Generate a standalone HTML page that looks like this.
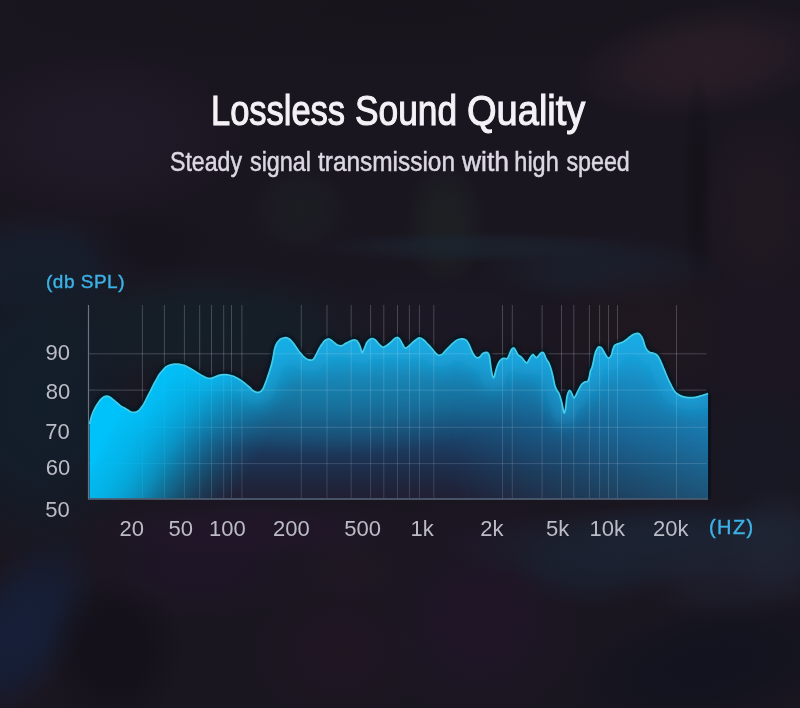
<!DOCTYPE html>
<html><head><meta charset="utf-8"><style>
html,body{margin:0;padding:0}
body{width:800px;height:708px;overflow:hidden;position:relative;background:#1a1620;font-family:"Liberation Sans",sans-serif}
svg{position:absolute;left:0;top:0}
</style></head><body>
<svg width="800" height="708" viewBox="0 0 800 708">
<defs>
<radialGradient id="b0"><stop offset="0" stop-color="#16141b" stop-opacity="0.7"/><stop offset=".45" stop-color="#16141b" stop-opacity="0.59"/><stop offset="1" stop-color="#16141b" stop-opacity="0"/></radialGradient>
<radialGradient id="b1"><stop offset="0" stop-color="#2a1e28" stop-opacity="0.9"/><stop offset=".45" stop-color="#2a1e28" stop-opacity="0.77"/><stop offset="1" stop-color="#2a1e28" stop-opacity="0"/></radialGradient>
<radialGradient id="b2"><stop offset="0" stop-color="#131017" stop-opacity="0.7"/><stop offset=".45" stop-color="#131017" stop-opacity="0.59"/><stop offset="1" stop-color="#131017" stop-opacity="0"/></radialGradient>
<radialGradient id="b3"><stop offset="0" stop-color="#221922" stop-opacity="0.8"/><stop offset=".45" stop-color="#221922" stop-opacity="0.68"/><stop offset="1" stop-color="#221922" stop-opacity="0"/></radialGradient>
<radialGradient id="b4"><stop offset="0" stop-color="#221a2a" stop-opacity="0.8"/><stop offset=".45" stop-color="#221a2a" stop-opacity="0.68"/><stop offset="1" stop-color="#221a2a" stop-opacity="0"/></radialGradient>
<radialGradient id="b5"><stop offset="0" stop-color="#172030" stop-opacity="0.8"/><stop offset=".45" stop-color="#172030" stop-opacity="0.68"/><stop offset="1" stop-color="#172030" stop-opacity="0"/></radialGradient>
<radialGradient id="b6"><stop offset="0" stop-color="#15131c" stop-opacity="0.6"/><stop offset=".45" stop-color="#15131c" stop-opacity="0.51"/><stop offset="1" stop-color="#15131c" stop-opacity="0"/></radialGradient>
<radialGradient id="b7"><stop offset="0" stop-color="#1f2626" stop-opacity="0.6"/><stop offset=".45" stop-color="#1f2626" stop-opacity="0.51"/><stop offset="1" stop-color="#1f2626" stop-opacity="0"/></radialGradient>
<radialGradient id="b8"><stop offset="0" stop-color="#1e2226" stop-opacity="0.5"/><stop offset=".45" stop-color="#1e2226" stop-opacity="0.42"/><stop offset="1" stop-color="#1e2226" stop-opacity="0"/></radialGradient>
<radialGradient id="b9"><stop offset="0" stop-color="#1b2530" stop-opacity="0.7"/><stop offset=".45" stop-color="#1b2530" stop-opacity="0.59"/><stop offset="1" stop-color="#1b2530" stop-opacity="0"/></radialGradient>
<radialGradient id="b10"><stop offset="0" stop-color="#1a2230" stop-opacity="0.7"/><stop offset=".45" stop-color="#1a2230" stop-opacity="0.59"/><stop offset="1" stop-color="#1a2230" stop-opacity="0"/></radialGradient>
<radialGradient id="b11"><stop offset="0" stop-color="#121e2a" stop-opacity="1.0"/><stop offset=".45" stop-color="#121e2a" stop-opacity="0.85"/><stop offset="1" stop-color="#121e2a" stop-opacity="0"/></radialGradient>
<radialGradient id="b12"><stop offset="0" stop-color="#142029" stop-opacity="0.9"/><stop offset=".45" stop-color="#142029" stop-opacity="0.77"/><stop offset="1" stop-color="#142029" stop-opacity="0"/></radialGradient>
<radialGradient id="b13"><stop offset="0" stop-color="#1c1826" stop-opacity="0.7"/><stop offset=".45" stop-color="#1c1826" stop-opacity="0.59"/><stop offset="1" stop-color="#1c1826" stop-opacity="0"/></radialGradient>
<radialGradient id="b14"><stop offset="0" stop-color="#201820" stop-opacity="0.8"/><stop offset=".45" stop-color="#201820" stop-opacity="0.68"/><stop offset="1" stop-color="#201820" stop-opacity="0"/></radialGradient>
<radialGradient id="b15"><stop offset="0" stop-color="#1c1622" stop-opacity="0.7"/><stop offset=".45" stop-color="#1c1622" stop-opacity="0.59"/><stop offset="1" stop-color="#1c1622" stop-opacity="0"/></radialGradient>
<radialGradient id="b16"><stop offset="0" stop-color="#151824" stop-opacity="0.8"/><stop offset=".45" stop-color="#151824" stop-opacity="0.68"/><stop offset="1" stop-color="#151824" stop-opacity="0"/></radialGradient>
<radialGradient id="b17"><stop offset="0" stop-color="#22162a" stop-opacity="0.8"/><stop offset=".45" stop-color="#22162a" stop-opacity="0.68"/><stop offset="1" stop-color="#22162a" stop-opacity="0"/></radialGradient>
<radialGradient id="b18"><stop offset="0" stop-color="#1e1626" stop-opacity="0.6"/><stop offset=".45" stop-color="#1e1626" stop-opacity="0.51"/><stop offset="1" stop-color="#1e1626" stop-opacity="0"/></radialGradient>
<radialGradient id="b19"><stop offset="0" stop-color="#1a1e2e" stop-opacity="0.8"/><stop offset=".45" stop-color="#1a1e2e" stop-opacity="0.68"/><stop offset="1" stop-color="#1a1e2e" stop-opacity="0"/></radialGradient>
<radialGradient id="b20"><stop offset="0" stop-color="#15203a" stop-opacity="0.9"/><stop offset=".45" stop-color="#15203a" stop-opacity="0.77"/><stop offset="1" stop-color="#15203a" stop-opacity="0"/></radialGradient>
<radialGradient id="b21"><stop offset="0" stop-color="#110f17" stop-opacity="0.8"/><stop offset=".45" stop-color="#110f17" stop-opacity="0.68"/><stop offset="1" stop-color="#110f17" stop-opacity="0"/></radialGradient>
<radialGradient id="b22"><stop offset="0" stop-color="#21152a" stop-opacity="0.6"/><stop offset=".45" stop-color="#21152a" stop-opacity="0.51"/><stop offset="1" stop-color="#21152a" stop-opacity="0"/></radialGradient>
<radialGradient id="b23"><stop offset="0" stop-color="#241624" stop-opacity="0.5"/><stop offset=".45" stop-color="#241624" stop-opacity="0.42"/><stop offset="1" stop-color="#241624" stop-opacity="0"/></radialGradient>
<radialGradient id="b24"><stop offset="0" stop-color="#241a26" stop-opacity="0.5"/><stop offset=".45" stop-color="#241a26" stop-opacity="0.42"/><stop offset="1" stop-color="#241a26" stop-opacity="0"/></radialGradient>
<radialGradient id="b25"><stop offset="0" stop-color="#22152a" stop-opacity="0.7"/><stop offset=".45" stop-color="#22152a" stop-opacity="0.59"/><stop offset="1" stop-color="#22152a" stop-opacity="0"/></radialGradient>
<radialGradient id="b26"><stop offset="0" stop-color="#1c2636" stop-opacity="0.7"/><stop offset=".45" stop-color="#1c2636" stop-opacity="0.59"/><stop offset="1" stop-color="#1c2636" stop-opacity="0"/></radialGradient>
<radialGradient id="b27"><stop offset="0" stop-color="#222a3a" stop-opacity="0.6"/><stop offset=".45" stop-color="#222a3a" stop-opacity="0.51"/><stop offset="1" stop-color="#222a3a" stop-opacity="0"/></radialGradient>
<radialGradient id="b28"><stop offset="0" stop-color="#1a2232" stop-opacity="0.6"/><stop offset=".45" stop-color="#1a2232" stop-opacity="0.51"/><stop offset="1" stop-color="#1a2232" stop-opacity="0"/></radialGradient>
<radialGradient id="b29"><stop offset="0" stop-color="#1f2232" stop-opacity="0.6"/><stop offset=".45" stop-color="#1f2232" stop-opacity="0.51"/><stop offset="1" stop-color="#1f2232" stop-opacity="0"/></radialGradient>
<radialGradient id="b30"><stop offset="0" stop-color="#11131e" stop-opacity="0.95"/><stop offset=".45" stop-color="#11131e" stop-opacity="0.81"/><stop offset="1" stop-color="#11131e" stop-opacity="0"/></radialGradient>
<linearGradient id="gv" x1="0" y1="335" x2="0" y2="498" gradientUnits="userSpaceOnUse">
<stop offset="0" stop-color="#1ba6da"/>
<stop offset="0.092" stop-color="#1a9fd4"/>
<stop offset="0.184" stop-color="#1890c4"/>
<stop offset="0.276" stop-color="#177eb0"/>
<stop offset="0.368" stop-color="#166c9a"/>
<stop offset="0.46" stop-color="#175c88"/>
<stop offset="0.552" stop-color="#184c76"/>
<stop offset="0.675" stop-color="#1b3d62"/>
<stop offset="0.798" stop-color="#1d2f4e"/>
<stop offset="0.89" stop-color="#1e2840"/>
<stop offset="1" stop-color="#211f34"/>
</linearGradient>
<linearGradient id="gl" x1="80" y1="480" x2="205.7" y2="550.4" gradientUnits="userSpaceOnUse">
<stop offset="0" stop-color="#00c2fa" stop-opacity="1"/>
<stop offset="0.061" stop-color="#00c2fa" stop-opacity=".95"/>
<stop offset="0.182" stop-color="#00c2fa" stop-opacity=".9"/>
<stop offset="0.303" stop-color="#00c2fa" stop-opacity=".81"/>
<stop offset="0.424" stop-color="#00c2fa" stop-opacity=".67"/>
<stop offset="0.545" stop-color="#00c2fa" stop-opacity=".47"/>
<stop offset="0.667" stop-color="#00c2fa" stop-opacity=".29"/>
<stop offset="0.788" stop-color="#00c2fa" stop-opacity=".15"/>
<stop offset="0.909" stop-color="#00c2fa" stop-opacity=".05"/>
<stop offset="1" stop-color="#00c2fa" stop-opacity="0"/>
</linearGradient>
<linearGradient id="gr" x1="450" y1="0" x2="708" y2="0" gradientUnits="userSpaceOnUse">
<stop offset="0" stop-color="#1aa0dc" stop-opacity="0"/>
<stop offset="1" stop-color="#1aa0dc" stop-opacity=".62"/>
</linearGradient>
<linearGradient id="gmv" x1="0" y1="400" x2="0" y2="498" gradientUnits="userSpaceOnUse">
<stop offset="0" stop-color="#fff"/>
<stop offset="1" stop-color="#a6a6a6"/>
</linearGradient>
<mask id="mv" maskUnits="userSpaceOnUse" x="0" y="0" width="800" height="708"><rect x="0" y="300" width="800" height="200" fill="url(#gmv)"/></mask>
<radialGradient id="gx" cx="330" cy="400" r="1" gradientUnits="userSpaceOnUse" gradientTransform="translate(330 400) scale(190 55) translate(-330 -400)">
<stop offset="0" stop-color="#18a0c8" stop-opacity=".28"/>
<stop offset="0.5" stop-color="#18a0c8" stop-opacity=".2"/>
<stop offset="1" stop-color="#18a0c8" stop-opacity="0"/>
</radialGradient>
<clipPath id="cf"><path d="M89.6,424 C89.8,423.3 90.2,421.3 90.5,420.0 C90.8,418.7 91.1,417.4 91.6,416.0 C92.1,414.6 92.6,413.0 93.3,411.5 C94.0,410.0 94.8,408.5 95.6,407.0 C96.4,405.5 97.5,403.7 98.4,402.4 C99.4,401.1 100.3,399.9 101.3,399.0 C102.2,398.1 103.2,397.3 104.1,396.8 C105.0,396.3 106.0,396.1 106.9,396.1 C107.8,396.2 108.7,396.5 109.7,397.1 C110.7,397.7 112.0,398.7 113.1,399.6 C114.2,400.5 115.4,401.4 116.5,402.4 C117.6,403.3 118.8,404.4 119.9,405.3 C121.0,406.2 122.2,406.9 123.3,407.5 C124.3,408.1 125.0,408.2 126.2,408.9 C127.4,409.6 129.1,411.1 130.5,411.7 C131.9,412.3 133.3,412.6 134.7,412.4 C136.1,412.2 137.7,411.4 139.0,410.3 C140.3,409.2 141.4,407.5 142.5,406.0 C143.6,404.5 144.4,402.9 145.3,401.1 C146.2,399.3 147.2,397.3 148.1,395.4 C149.0,393.5 150.1,391.7 151.0,389.8 C151.9,387.9 152.9,385.9 153.8,384.1 C154.7,382.3 155.7,380.9 156.6,379.2 C157.5,377.5 158.3,375.7 159.4,374.2 C160.5,372.7 161.9,371.2 163.0,370.0 C164.1,368.8 164.8,367.7 166.0,366.9 C167.2,366.1 168.7,365.4 170.0,365.0 C171.3,364.6 172.8,364.4 174.0,364.2 C175.2,364.1 176.0,364.1 177.0,364.1 C178.0,364.1 178.8,364.2 180.0,364.4 C181.2,364.6 182.7,364.8 184.0,365.3 C185.3,365.8 186.7,366.5 188.0,367.2 C189.3,367.9 190.7,368.6 192.0,369.4 C193.3,370.2 194.7,371.1 196.0,371.9 C197.3,372.7 198.7,373.6 200.0,374.4 C201.3,375.2 202.7,376.0 204.0,376.6 C205.3,377.2 206.8,377.9 208.0,378.2 C209.2,378.5 210.0,378.5 211.0,378.4 C212.0,378.2 213.0,377.7 214.0,377.3 C215.0,376.9 216.0,376.5 217.0,376.1 C218.0,375.7 219.0,375.3 220.0,375.1 C221.0,374.9 222.0,374.8 223.0,374.7 C224.0,374.6 225.0,374.6 226.0,374.7 C227.0,374.8 228.0,374.8 229.0,375.0 C230.0,375.2 231.0,375.4 232.0,375.8 C233.0,376.1 234.0,376.5 235.0,377.0 C236.0,377.5 237.0,378.0 238.0,378.6 C239.0,379.2 240.0,379.7 241.0,380.4 C242.0,381.1 243.0,381.8 244.0,382.6 C245.0,383.4 246.0,384.3 247.0,385.1 C248.0,385.9 249.2,386.8 250.0,387.6 C250.8,388.4 251.3,389.4 252.0,390.0 C252.7,390.6 253.3,390.8 254.0,391.2 C254.7,391.6 255.2,391.9 256.0,392.1 C256.8,392.3 257.7,392.5 258.5,392.4 C259.3,392.2 260.2,391.8 261.0,391.2 C261.8,390.6 262.3,390.0 263.0,388.8 C263.7,387.6 264.3,385.8 265.0,384.1 C265.7,382.4 266.3,380.6 267.0,378.7 C267.7,376.8 268.3,374.9 269.0,372.8 C269.7,370.7 270.4,368.4 271.0,366.3 C271.6,364.2 272.1,362.4 272.5,360.5 C272.9,358.6 273.1,357.2 273.5,355.0 C273.9,352.8 274.4,349.5 275.0,347.5 C275.6,345.5 276.3,344.2 277.0,343.0 C277.7,341.8 278.3,341.2 279.0,340.5 C279.7,339.8 280.2,339.2 281.0,338.8 C281.8,338.3 283.2,337.9 284.0,337.8 C284.8,337.6 285.3,337.5 286.0,337.6 C286.7,337.7 287.3,337.9 288.0,338.2 C288.7,338.6 289.3,339.0 290.0,339.5 C290.7,340.0 291.3,340.8 292.0,341.5 C292.7,342.2 293.3,343.1 294.0,344.0 C294.7,344.9 295.3,346.0 296.0,347.0 C296.7,348.0 297.3,349.1 298.0,350.0 C298.7,350.9 299.3,351.7 300.0,352.5 C300.7,353.3 301.3,354.1 302.0,354.8 C302.7,355.6 303.3,356.4 304.0,357.0 C304.7,357.6 305.3,358.2 306.0,358.6 C306.7,359.0 307.2,359.4 308.0,359.6 C308.8,359.9 309.7,360.1 310.5,360.1 C311.3,360.1 312.2,360.2 313.0,359.6 C313.8,359.0 314.3,357.8 315.0,356.7 C315.7,355.6 316.3,354.1 317.0,352.8 C317.7,351.5 318.3,350.1 319.0,348.9 C319.7,347.7 320.3,346.5 321.0,345.5 C321.7,344.5 322.3,343.6 323.0,342.7 C323.7,341.8 324.3,341.0 325.0,340.4 C325.7,339.8 326.3,339.4 327.0,339.2 C327.7,339.0 328.3,338.9 329.0,339.0 C329.7,339.1 330.3,339.5 331.0,339.9 C331.7,340.3 332.3,341.1 333.0,341.6 C333.7,342.2 334.3,342.7 335.0,343.2 C335.7,343.7 336.3,344.3 337.0,344.7 C337.7,345.1 338.3,345.3 339.0,345.5 C339.7,345.7 340.3,345.9 341.0,345.8 C341.7,345.8 342.3,345.5 343.0,345.2 C343.7,344.9 344.2,344.3 345.0,343.8 C345.8,343.3 346.8,342.9 348.0,342.3 C349.2,341.7 350.8,340.8 352.0,340.4 C353.2,340.0 354.2,339.9 355.0,340.0 C355.8,340.1 356.3,340.2 357.0,340.8 C357.7,341.4 358.4,342.7 359.0,343.8 C359.6,344.9 360.1,346.3 360.5,347.5 C360.9,348.7 361.2,350.2 361.5,351.1 C361.8,352.0 361.9,352.7 362.2,352.6 C362.5,352.5 363.0,351.5 363.5,350.5 C364.0,349.5 364.4,348.2 365.0,346.8 C365.6,345.4 366.2,343.6 367.0,342.3 C367.8,341.1 369.1,339.9 370.0,339.3 C370.9,338.7 371.7,338.4 372.5,338.5 C373.3,338.6 374.1,338.9 375.0,339.6 C375.9,340.4 377.0,341.9 378.0,343.0 C379.0,344.1 380.2,345.3 381.0,346.0 C381.8,346.7 382.2,347.3 383.0,347.3 C383.8,347.3 384.8,346.7 386.0,346.0 C387.2,345.3 388.7,344.1 390.0,343.0 C391.3,341.9 393.0,340.1 394.0,339.2 C395.0,338.3 395.3,338.1 396.0,337.8 C396.7,337.5 397.3,337.2 398.0,337.5 C398.7,337.8 399.3,338.5 400.0,339.4 C400.7,340.3 401.3,341.9 402.0,343.1 C402.7,344.4 403.5,346.1 404.0,346.9 C404.5,347.7 404.7,348.0 405.2,348.1 C405.7,348.2 406.2,348.0 407.0,347.5 C407.8,347.0 409.0,345.9 410.0,345.0 C411.0,344.1 412.0,343.1 413.0,342.2 C414.0,341.3 415.0,340.4 416.0,339.7 C417.0,339.0 418.0,338.0 419.0,337.8 C420.0,337.6 421.0,338.2 422.0,338.8 C423.0,339.3 424.0,340.3 425.0,341.2 C426.0,342.2 427.0,343.4 428.0,344.4 C429.0,345.4 430.0,346.4 431.0,347.5 C432.0,348.6 433.0,350.1 434.0,351.2 C435.0,352.4 436.2,353.7 437.0,354.4 C437.8,355.1 438.2,355.3 439.0,355.3 C439.8,355.3 441.2,354.9 442.0,354.4 C442.8,353.9 443.2,353.3 444.0,352.4 C444.8,351.5 446.0,350.1 447.0,349.1 C448.0,348.1 449.0,347.2 450.0,346.2 C451.0,345.2 452.0,344.1 453.0,343.2 C454.0,342.3 455.0,341.3 456.0,340.6 C457.0,339.9 458.0,339.5 459.0,339.2 C460.0,338.9 461.0,338.8 462.0,338.8 C463.0,338.9 464.2,339.1 465.0,339.5 C465.8,339.9 466.3,340.2 467.0,341.0 C467.7,341.8 468.3,342.9 469.0,344.3 C469.7,345.7 470.3,347.6 471.0,349.1 C471.7,350.6 472.3,352.3 473.0,353.5 C473.7,354.7 474.2,355.7 475.0,356.4 C475.8,357.1 476.7,357.8 477.5,357.9 C478.3,358.0 479.2,357.4 480.0,356.8 C480.8,356.2 481.3,354.9 482.0,354.2 C482.7,353.5 483.3,353.1 484.0,352.8 C484.7,352.5 485.3,352.4 486.0,352.4 C486.7,352.4 487.4,352.3 488.0,353.0 C488.6,353.7 489.1,354.7 489.5,356.5 C489.9,358.3 490.2,361.6 490.5,364.0 C490.8,366.4 491.2,369.2 491.5,371.1 C491.8,373.0 492.2,374.5 492.5,375.6 C492.8,376.7 493.2,377.7 493.5,377.8 C493.8,377.9 494.2,377.2 494.5,376.2 C494.8,375.2 495.1,373.4 495.5,371.8 C495.9,370.2 496.4,368.3 497.0,366.7 C497.6,365.1 498.3,363.4 499.0,362.2 C499.7,361.0 500.3,360.3 501.0,359.7 C501.7,359.1 502.3,358.6 503.0,358.4 C503.7,358.2 504.3,358.3 505.0,358.4 C505.7,358.4 506.4,359.0 507.0,358.7 C507.6,358.4 508.0,357.5 508.5,356.5 C509.0,355.5 509.5,353.9 510.0,352.7 C510.5,351.5 511.0,350.3 511.5,349.5 C512.0,348.7 512.5,348.1 513.0,348.0 C513.5,347.9 514.0,348.1 514.5,348.6 C515.0,349.1 515.5,350.2 516.0,351.1 C516.5,352.0 517.0,353.2 517.5,354.0 C518.0,354.8 518.4,355.1 519.0,355.6 C519.6,356.1 520.3,356.2 521.0,356.8 C521.7,357.4 522.3,358.3 523.0,359.1 C523.7,359.9 524.3,361.0 525.0,361.6 C525.7,362.2 526.3,363.2 527.0,362.9 C527.7,362.6 528.3,360.8 529.0,359.7 C529.7,358.6 530.3,357.4 531.0,356.5 C531.7,355.6 532.3,354.3 533.0,354.3 C533.7,354.3 534.4,356.1 535.0,356.6 C535.6,357.2 536.0,357.6 536.5,357.6 C537.0,357.6 537.4,357.0 538.0,356.4 C538.6,355.8 539.3,354.6 540.0,353.9 C540.7,353.2 541.3,352.5 542.0,352.4 C542.7,352.3 543.4,352.6 544.0,353.4 C544.6,354.2 545.0,356.2 545.5,357.4 C546.0,358.5 546.4,359.3 547.0,360.3 C547.6,361.3 548.3,361.9 549.0,363.3 C549.7,364.7 550.3,366.5 551.0,368.7 C551.7,370.9 552.3,373.8 553.0,376.7 C553.7,379.6 554.3,383.7 555.0,386.0 C555.7,388.3 556.3,389.2 557.0,390.5 C557.7,391.8 558.3,392.0 559.0,393.5 C559.7,395.0 560.4,397.3 561.0,399.4 C561.6,401.5 562.0,403.8 562.5,406.0 C563.0,408.2 563.5,412.3 564.0,412.8 C564.5,413.3 565.0,411.7 565.5,409.0 C566.0,406.3 566.4,399.4 567.0,396.4 C567.6,393.4 568.4,391.9 569.0,391.0 C569.6,390.1 570.0,390.5 570.5,391.0 C571.0,391.5 571.4,392.8 572.0,394.0 C572.6,395.2 573.3,397.8 574.0,398.0 C574.7,398.2 575.3,396.3 576.0,395.1 C576.7,393.9 577.3,392.1 578.0,390.8 C578.7,389.5 579.3,388.2 580.0,387.1 C580.7,386.0 581.3,384.8 582.0,384.0 C582.7,383.2 583.3,382.8 584.0,382.4 C584.7,382.0 585.3,382.0 586.0,381.8 C586.7,381.6 587.4,382.0 588.0,381.0 C588.6,380.0 589.1,377.7 589.5,376.0 C589.9,374.3 590.1,372.1 590.5,370.7 C590.9,369.3 591.5,369.1 592.0,367.5 C592.5,365.9 593.0,363.5 593.5,361.2 C594.0,358.9 594.4,355.8 595.0,353.8 C595.6,351.8 596.3,350.1 597.0,349.0 C597.7,347.9 598.3,347.2 599.0,346.9 C599.7,346.6 600.3,346.9 601.0,347.4 C601.7,347.9 602.3,349.0 603.0,350.1 C603.7,351.2 604.3,352.7 605.0,353.8 C605.7,354.9 606.3,356.3 607.0,357.0 C607.7,357.7 608.3,358.2 609.0,358.0 C609.7,357.8 610.5,356.7 611.0,355.9 C611.5,355.1 611.7,354.3 612.0,353.1 C612.3,351.9 612.6,350.1 613.0,348.9 C613.4,347.6 613.8,346.4 614.5,345.6 C615.2,344.8 616.1,344.5 617.0,344.1 C617.9,343.7 619.0,343.5 620.0,343.1 C621.0,342.7 622.0,342.4 623.0,341.9 C624.0,341.4 625.0,340.7 626.0,340.0 C627.0,339.3 628.0,338.3 629.0,337.5 C630.0,336.7 631.0,335.9 632.0,335.3 C633.0,334.7 634.0,334.1 635.0,333.8 C636.0,333.4 637.1,333.2 638.0,333.4 C638.9,333.6 639.8,334.3 640.5,335.0 C641.2,335.7 641.5,336.5 642.0,337.5 C642.5,338.5 643.0,339.8 643.5,341.2 C644.0,342.7 644.4,344.8 645.0,346.2 C645.6,347.7 646.2,349.0 647.0,350.0 C647.8,351.0 649.0,351.9 650.0,352.4 C651.0,352.9 652.0,352.7 653.0,353.0 C654.0,353.3 655.2,353.8 656.0,354.3 C656.8,354.9 657.3,355.4 658.0,356.3 C658.7,357.2 659.3,358.6 660.0,359.9 C660.7,361.2 661.3,362.8 662.0,364.3 C662.7,365.9 663.3,367.6 664.0,369.2 C664.7,370.8 665.3,372.4 666.0,374.0 C666.7,375.6 667.3,377.3 668.0,378.8 C668.7,380.3 669.3,381.5 670.0,382.8 C670.7,384.1 671.3,385.6 672.0,386.9 C672.7,388.2 673.3,389.5 674.0,390.5 C674.7,391.5 675.2,392.2 676.0,392.9 C676.8,393.6 678.0,394.3 679.0,394.9 C680.0,395.5 680.8,396.0 682.0,396.4 C683.2,396.8 684.7,397.1 686.0,397.3 C687.3,397.5 688.5,397.7 690.0,397.7 C691.5,397.7 693.3,397.6 695.0,397.3 C696.7,397.0 698.7,396.5 700.0,396.1 C701.3,395.8 702.0,395.5 703.0,395.2 C704.0,394.9 705.2,394.6 706.0,394.3 C706.8,394.0 707.7,393.7 708.0,393.6 L708,498.5 L89.5,498.5 Z"/></clipPath>
<filter id="ig" x="-10%" y="-50%" width="120%" height="200%"><feGaussianBlur stdDeviation="8"/></filter>
<linearGradient id="gr" x1="460" y1="0" x2="708" y2="0" gradientUnits="userSpaceOnUse">
<stop offset="0" stop-color="#1aa0dc" stop-opacity="0"/>
<stop offset="0.32" stop-color="#1aa0dc" stop-opacity=".15"/>
<stop offset="0.56" stop-color="#1aa0dc" stop-opacity=".32"/>
<stop offset="0.77" stop-color="#1aa0dc" stop-opacity=".43"/>
<stop offset="1" stop-color="#1aa0dc" stop-opacity=".46"/>
</linearGradient>
<linearGradient id="gmv" x1="0" y1="380" x2="0" y2="498" gradientUnits="userSpaceOnUse">
<stop offset="0" stop-color="#fff"/>
<stop offset="1" stop-color="#aaa"/>
</linearGradient>
<mask id="mv" maskUnits="userSpaceOnUse" x="0" y="0" width="800" height="708"><rect x="0" y="300" width="800" height="200" fill="url(#gmv)"/></mask>
<filter id="sh" x="-5%" y="-20%" width="110%" height="140%"><feGaussianBlur stdDeviation="1.5"/></filter>
</defs>
<g><ellipse cx="400" cy="10" rx="520" ry="70" fill="url(#b0)"/><ellipse cx="705" cy="60" rx="130" ry="55" fill="url(#b1)" transform="rotate(-8 705 60)"/><ellipse cx="698" cy="190" rx="16" ry="120" fill="url(#b2)"/><ellipse cx="760" cy="210" rx="60" ry="95" fill="url(#b3)"/><ellipse cx="100" cy="135" rx="140" ry="80" fill="url(#b4)"/><ellipse cx="40" cy="265" rx="100" ry="55" fill="url(#b5)"/><ellipse cx="150" cy="245" rx="70" ry="40" fill="url(#b6)"/><ellipse cx="445" cy="225" rx="40" ry="65" fill="url(#b7)"/><ellipse cx="300" cy="210" rx="50" ry="45" fill="url(#b8)"/><ellipse cx="475" cy="247" rx="160" ry="16" fill="url(#b9)"/><ellipse cx="600" cy="270" rx="120" ry="35" fill="url(#b10)"/><ellipse cx="40" cy="400" rx="110" ry="170" fill="url(#b11)"/><ellipse cx="210" cy="330" rx="190" ry="65" fill="url(#b12)"/><ellipse cx="445" cy="315" rx="140" ry="40" fill="url(#b13)"/><ellipse cx="650" cy="330" rx="110" ry="70" fill="url(#b14)"/><ellipse cx="760" cy="340" rx="70" ry="70" fill="url(#b15)"/><ellipse cx="760" cy="460" rx="70" ry="80" fill="url(#b16)"/><ellipse cx="250" cy="530" rx="190" ry="32" fill="url(#b17)"/><ellipse cx="480" cy="530" rx="90" ry="28" fill="url(#b18)"/><ellipse cx="690" cy="530" rx="130" ry="30" fill="url(#b19)"/><ellipse cx="20" cy="630" rx="60" ry="110" fill="url(#b20)" transform="rotate(35 20 630)"/><ellipse cx="115" cy="650" rx="70" ry="80" fill="url(#b21)"/><ellipse cx="200" cy="570" rx="120" ry="45" fill="url(#b22)"/><ellipse cx="340" cy="650" rx="85" ry="75" fill="url(#b23)"/><ellipse cx="350" cy="570" rx="60" ry="35" fill="url(#b24)"/><ellipse cx="480" cy="620" rx="100" ry="100" fill="url(#b25)"/><ellipse cx="640" cy="548" rx="190" ry="42" fill="url(#b26)"/><ellipse cx="780" cy="545" rx="60" ry="60" fill="url(#b27)"/><ellipse cx="590" cy="570" rx="80" ry="38" fill="url(#b28)"/><ellipse cx="730" cy="575" rx="90" ry="50" fill="url(#b29)"/><ellipse cx="710" cy="665" rx="150" ry="65" fill="url(#b30)" transform="rotate(-12 710 665)"/></g>
<g stroke="#d0d4e4" stroke-opacity=".25" stroke-width="1"><line x1="142.4" y1="305" x2="142.4" y2="498"/><line x1="164.4" y1="305" x2="164.4" y2="498"/><line x1="184.4" y1="305" x2="184.4" y2="498"/><line x1="199.7" y1="305" x2="199.7" y2="498"/><line x1="211.5" y1="305" x2="211.5" y2="498"/><line x1="223.7" y1="305" x2="223.7" y2="498"/><line x1="231.5" y1="305" x2="231.5" y2="498"/><line x1="241.9" y1="305" x2="241.9" y2="498"/><line x1="301.3" y1="305" x2="301.3" y2="498"/><line x1="327" y1="305" x2="327" y2="498"/><line x1="351.2" y1="305" x2="351.2" y2="498"/><line x1="370.6" y1="305" x2="370.6" y2="498"/><line x1="383.8" y1="305" x2="383.8" y2="498"/><line x1="397.5" y1="305" x2="397.5" y2="498"/><line x1="409.4" y1="305" x2="409.4" y2="498"/><line x1="419.4" y1="305" x2="419.4" y2="498"/><line x1="433.8" y1="305" x2="433.8" y2="498"/><line x1="502.5" y1="305" x2="502.5" y2="498"/><line x1="512.3" y1="305" x2="512.3" y2="498"/><line x1="542.1" y1="305" x2="542.1" y2="498"/><line x1="561.5" y1="305" x2="561.5" y2="498"/><line x1="573.8" y1="305" x2="573.8" y2="498"/><line x1="589.4" y1="305" x2="589.4" y2="498"/><line x1="599.6" y1="305" x2="599.6" y2="498"/><line x1="608.5" y1="305" x2="608.5" y2="498"/><line x1="617.5" y1="305" x2="617.5" y2="498"/><line x1="676.5" y1="305" x2="676.5" y2="498"/><line x1="88" y1="353.8" x2="706.5" y2="353.8"/><line x1="88" y1="390.1" x2="706.5" y2="390.1"/><line x1="88" y1="427.3" x2="706.5" y2="427.3"/><line x1="88" y1="463.6" x2="706.5" y2="463.6"/></g>
<path d="M89.6,424 C89.8,423.3 90.2,421.3 90.5,420.0 C90.8,418.7 91.1,417.4 91.6,416.0 C92.1,414.6 92.6,413.0 93.3,411.5 C94.0,410.0 94.8,408.5 95.6,407.0 C96.4,405.5 97.5,403.7 98.4,402.4 C99.4,401.1 100.3,399.9 101.3,399.0 C102.2,398.1 103.2,397.3 104.1,396.8 C105.0,396.3 106.0,396.1 106.9,396.1 C107.8,396.2 108.7,396.5 109.7,397.1 C110.7,397.7 112.0,398.7 113.1,399.6 C114.2,400.5 115.4,401.4 116.5,402.4 C117.6,403.3 118.8,404.4 119.9,405.3 C121.0,406.2 122.2,406.9 123.3,407.5 C124.3,408.1 125.0,408.2 126.2,408.9 C127.4,409.6 129.1,411.1 130.5,411.7 C131.9,412.3 133.3,412.6 134.7,412.4 C136.1,412.2 137.7,411.4 139.0,410.3 C140.3,409.2 141.4,407.5 142.5,406.0 C143.6,404.5 144.4,402.9 145.3,401.1 C146.2,399.3 147.2,397.3 148.1,395.4 C149.0,393.5 150.1,391.7 151.0,389.8 C151.9,387.9 152.9,385.9 153.8,384.1 C154.7,382.3 155.7,380.9 156.6,379.2 C157.5,377.5 158.3,375.7 159.4,374.2 C160.5,372.7 161.9,371.2 163.0,370.0 C164.1,368.8 164.8,367.7 166.0,366.9 C167.2,366.1 168.7,365.4 170.0,365.0 C171.3,364.6 172.8,364.4 174.0,364.2 C175.2,364.1 176.0,364.1 177.0,364.1 C178.0,364.1 178.8,364.2 180.0,364.4 C181.2,364.6 182.7,364.8 184.0,365.3 C185.3,365.8 186.7,366.5 188.0,367.2 C189.3,367.9 190.7,368.6 192.0,369.4 C193.3,370.2 194.7,371.1 196.0,371.9 C197.3,372.7 198.7,373.6 200.0,374.4 C201.3,375.2 202.7,376.0 204.0,376.6 C205.3,377.2 206.8,377.9 208.0,378.2 C209.2,378.5 210.0,378.5 211.0,378.4 C212.0,378.2 213.0,377.7 214.0,377.3 C215.0,376.9 216.0,376.5 217.0,376.1 C218.0,375.7 219.0,375.3 220.0,375.1 C221.0,374.9 222.0,374.8 223.0,374.7 C224.0,374.6 225.0,374.6 226.0,374.7 C227.0,374.8 228.0,374.8 229.0,375.0 C230.0,375.2 231.0,375.4 232.0,375.8 C233.0,376.1 234.0,376.5 235.0,377.0 C236.0,377.5 237.0,378.0 238.0,378.6 C239.0,379.2 240.0,379.7 241.0,380.4 C242.0,381.1 243.0,381.8 244.0,382.6 C245.0,383.4 246.0,384.3 247.0,385.1 C248.0,385.9 249.2,386.8 250.0,387.6 C250.8,388.4 251.3,389.4 252.0,390.0 C252.7,390.6 253.3,390.8 254.0,391.2 C254.7,391.6 255.2,391.9 256.0,392.1 C256.8,392.3 257.7,392.5 258.5,392.4 C259.3,392.2 260.2,391.8 261.0,391.2 C261.8,390.6 262.3,390.0 263.0,388.8 C263.7,387.6 264.3,385.8 265.0,384.1 C265.7,382.4 266.3,380.6 267.0,378.7 C267.7,376.8 268.3,374.9 269.0,372.8 C269.7,370.7 270.4,368.4 271.0,366.3 C271.6,364.2 272.1,362.4 272.5,360.5 C272.9,358.6 273.1,357.2 273.5,355.0 C273.9,352.8 274.4,349.5 275.0,347.5 C275.6,345.5 276.3,344.2 277.0,343.0 C277.7,341.8 278.3,341.2 279.0,340.5 C279.7,339.8 280.2,339.2 281.0,338.8 C281.8,338.3 283.2,337.9 284.0,337.8 C284.8,337.6 285.3,337.5 286.0,337.6 C286.7,337.7 287.3,337.9 288.0,338.2 C288.7,338.6 289.3,339.0 290.0,339.5 C290.7,340.0 291.3,340.8 292.0,341.5 C292.7,342.2 293.3,343.1 294.0,344.0 C294.7,344.9 295.3,346.0 296.0,347.0 C296.7,348.0 297.3,349.1 298.0,350.0 C298.7,350.9 299.3,351.7 300.0,352.5 C300.7,353.3 301.3,354.1 302.0,354.8 C302.7,355.6 303.3,356.4 304.0,357.0 C304.7,357.6 305.3,358.2 306.0,358.6 C306.7,359.0 307.2,359.4 308.0,359.6 C308.8,359.9 309.7,360.1 310.5,360.1 C311.3,360.1 312.2,360.2 313.0,359.6 C313.8,359.0 314.3,357.8 315.0,356.7 C315.7,355.6 316.3,354.1 317.0,352.8 C317.7,351.5 318.3,350.1 319.0,348.9 C319.7,347.7 320.3,346.5 321.0,345.5 C321.7,344.5 322.3,343.6 323.0,342.7 C323.7,341.8 324.3,341.0 325.0,340.4 C325.7,339.8 326.3,339.4 327.0,339.2 C327.7,339.0 328.3,338.9 329.0,339.0 C329.7,339.1 330.3,339.5 331.0,339.9 C331.7,340.3 332.3,341.1 333.0,341.6 C333.7,342.2 334.3,342.7 335.0,343.2 C335.7,343.7 336.3,344.3 337.0,344.7 C337.7,345.1 338.3,345.3 339.0,345.5 C339.7,345.7 340.3,345.9 341.0,345.8 C341.7,345.8 342.3,345.5 343.0,345.2 C343.7,344.9 344.2,344.3 345.0,343.8 C345.8,343.3 346.8,342.9 348.0,342.3 C349.2,341.7 350.8,340.8 352.0,340.4 C353.2,340.0 354.2,339.9 355.0,340.0 C355.8,340.1 356.3,340.2 357.0,340.8 C357.7,341.4 358.4,342.7 359.0,343.8 C359.6,344.9 360.1,346.3 360.5,347.5 C360.9,348.7 361.2,350.2 361.5,351.1 C361.8,352.0 361.9,352.7 362.2,352.6 C362.5,352.5 363.0,351.5 363.5,350.5 C364.0,349.5 364.4,348.2 365.0,346.8 C365.6,345.4 366.2,343.6 367.0,342.3 C367.8,341.1 369.1,339.9 370.0,339.3 C370.9,338.7 371.7,338.4 372.5,338.5 C373.3,338.6 374.1,338.9 375.0,339.6 C375.9,340.4 377.0,341.9 378.0,343.0 C379.0,344.1 380.2,345.3 381.0,346.0 C381.8,346.7 382.2,347.3 383.0,347.3 C383.8,347.3 384.8,346.7 386.0,346.0 C387.2,345.3 388.7,344.1 390.0,343.0 C391.3,341.9 393.0,340.1 394.0,339.2 C395.0,338.3 395.3,338.1 396.0,337.8 C396.7,337.5 397.3,337.2 398.0,337.5 C398.7,337.8 399.3,338.5 400.0,339.4 C400.7,340.3 401.3,341.9 402.0,343.1 C402.7,344.4 403.5,346.1 404.0,346.9 C404.5,347.7 404.7,348.0 405.2,348.1 C405.7,348.2 406.2,348.0 407.0,347.5 C407.8,347.0 409.0,345.9 410.0,345.0 C411.0,344.1 412.0,343.1 413.0,342.2 C414.0,341.3 415.0,340.4 416.0,339.7 C417.0,339.0 418.0,338.0 419.0,337.8 C420.0,337.6 421.0,338.2 422.0,338.8 C423.0,339.3 424.0,340.3 425.0,341.2 C426.0,342.2 427.0,343.4 428.0,344.4 C429.0,345.4 430.0,346.4 431.0,347.5 C432.0,348.6 433.0,350.1 434.0,351.2 C435.0,352.4 436.2,353.7 437.0,354.4 C437.8,355.1 438.2,355.3 439.0,355.3 C439.8,355.3 441.2,354.9 442.0,354.4 C442.8,353.9 443.2,353.3 444.0,352.4 C444.8,351.5 446.0,350.1 447.0,349.1 C448.0,348.1 449.0,347.2 450.0,346.2 C451.0,345.2 452.0,344.1 453.0,343.2 C454.0,342.3 455.0,341.3 456.0,340.6 C457.0,339.9 458.0,339.5 459.0,339.2 C460.0,338.9 461.0,338.8 462.0,338.8 C463.0,338.9 464.2,339.1 465.0,339.5 C465.8,339.9 466.3,340.2 467.0,341.0 C467.7,341.8 468.3,342.9 469.0,344.3 C469.7,345.7 470.3,347.6 471.0,349.1 C471.7,350.6 472.3,352.3 473.0,353.5 C473.7,354.7 474.2,355.7 475.0,356.4 C475.8,357.1 476.7,357.8 477.5,357.9 C478.3,358.0 479.2,357.4 480.0,356.8 C480.8,356.2 481.3,354.9 482.0,354.2 C482.7,353.5 483.3,353.1 484.0,352.8 C484.7,352.5 485.3,352.4 486.0,352.4 C486.7,352.4 487.4,352.3 488.0,353.0 C488.6,353.7 489.1,354.7 489.5,356.5 C489.9,358.3 490.2,361.6 490.5,364.0 C490.8,366.4 491.2,369.2 491.5,371.1 C491.8,373.0 492.2,374.5 492.5,375.6 C492.8,376.7 493.2,377.7 493.5,377.8 C493.8,377.9 494.2,377.2 494.5,376.2 C494.8,375.2 495.1,373.4 495.5,371.8 C495.9,370.2 496.4,368.3 497.0,366.7 C497.6,365.1 498.3,363.4 499.0,362.2 C499.7,361.0 500.3,360.3 501.0,359.7 C501.7,359.1 502.3,358.6 503.0,358.4 C503.7,358.2 504.3,358.3 505.0,358.4 C505.7,358.4 506.4,359.0 507.0,358.7 C507.6,358.4 508.0,357.5 508.5,356.5 C509.0,355.5 509.5,353.9 510.0,352.7 C510.5,351.5 511.0,350.3 511.5,349.5 C512.0,348.7 512.5,348.1 513.0,348.0 C513.5,347.9 514.0,348.1 514.5,348.6 C515.0,349.1 515.5,350.2 516.0,351.1 C516.5,352.0 517.0,353.2 517.5,354.0 C518.0,354.8 518.4,355.1 519.0,355.6 C519.6,356.1 520.3,356.2 521.0,356.8 C521.7,357.4 522.3,358.3 523.0,359.1 C523.7,359.9 524.3,361.0 525.0,361.6 C525.7,362.2 526.3,363.2 527.0,362.9 C527.7,362.6 528.3,360.8 529.0,359.7 C529.7,358.6 530.3,357.4 531.0,356.5 C531.7,355.6 532.3,354.3 533.0,354.3 C533.7,354.3 534.4,356.1 535.0,356.6 C535.6,357.2 536.0,357.6 536.5,357.6 C537.0,357.6 537.4,357.0 538.0,356.4 C538.6,355.8 539.3,354.6 540.0,353.9 C540.7,353.2 541.3,352.5 542.0,352.4 C542.7,352.3 543.4,352.6 544.0,353.4 C544.6,354.2 545.0,356.2 545.5,357.4 C546.0,358.5 546.4,359.3 547.0,360.3 C547.6,361.3 548.3,361.9 549.0,363.3 C549.7,364.7 550.3,366.5 551.0,368.7 C551.7,370.9 552.3,373.8 553.0,376.7 C553.7,379.6 554.3,383.7 555.0,386.0 C555.7,388.3 556.3,389.2 557.0,390.5 C557.7,391.8 558.3,392.0 559.0,393.5 C559.7,395.0 560.4,397.3 561.0,399.4 C561.6,401.5 562.0,403.8 562.5,406.0 C563.0,408.2 563.5,412.3 564.0,412.8 C564.5,413.3 565.0,411.7 565.5,409.0 C566.0,406.3 566.4,399.4 567.0,396.4 C567.6,393.4 568.4,391.9 569.0,391.0 C569.6,390.1 570.0,390.5 570.5,391.0 C571.0,391.5 571.4,392.8 572.0,394.0 C572.6,395.2 573.3,397.8 574.0,398.0 C574.7,398.2 575.3,396.3 576.0,395.1 C576.7,393.9 577.3,392.1 578.0,390.8 C578.7,389.5 579.3,388.2 580.0,387.1 C580.7,386.0 581.3,384.8 582.0,384.0 C582.7,383.2 583.3,382.8 584.0,382.4 C584.7,382.0 585.3,382.0 586.0,381.8 C586.7,381.6 587.4,382.0 588.0,381.0 C588.6,380.0 589.1,377.7 589.5,376.0 C589.9,374.3 590.1,372.1 590.5,370.7 C590.9,369.3 591.5,369.1 592.0,367.5 C592.5,365.9 593.0,363.5 593.5,361.2 C594.0,358.9 594.4,355.8 595.0,353.8 C595.6,351.8 596.3,350.1 597.0,349.0 C597.7,347.9 598.3,347.2 599.0,346.9 C599.7,346.6 600.3,346.9 601.0,347.4 C601.7,347.9 602.3,349.0 603.0,350.1 C603.7,351.2 604.3,352.7 605.0,353.8 C605.7,354.9 606.3,356.3 607.0,357.0 C607.7,357.7 608.3,358.2 609.0,358.0 C609.7,357.8 610.5,356.7 611.0,355.9 C611.5,355.1 611.7,354.3 612.0,353.1 C612.3,351.9 612.6,350.1 613.0,348.9 C613.4,347.6 613.8,346.4 614.5,345.6 C615.2,344.8 616.1,344.5 617.0,344.1 C617.9,343.7 619.0,343.5 620.0,343.1 C621.0,342.7 622.0,342.4 623.0,341.9 C624.0,341.4 625.0,340.7 626.0,340.0 C627.0,339.3 628.0,338.3 629.0,337.5 C630.0,336.7 631.0,335.9 632.0,335.3 C633.0,334.7 634.0,334.1 635.0,333.8 C636.0,333.4 637.1,333.2 638.0,333.4 C638.9,333.6 639.8,334.3 640.5,335.0 C641.2,335.7 641.5,336.5 642.0,337.5 C642.5,338.5 643.0,339.8 643.5,341.2 C644.0,342.7 644.4,344.8 645.0,346.2 C645.6,347.7 646.2,349.0 647.0,350.0 C647.8,351.0 649.0,351.9 650.0,352.4 C651.0,352.9 652.0,352.7 653.0,353.0 C654.0,353.3 655.2,353.8 656.0,354.3 C656.8,354.9 657.3,355.4 658.0,356.3 C658.7,357.2 659.3,358.6 660.0,359.9 C660.7,361.2 661.3,362.8 662.0,364.3 C662.7,365.9 663.3,367.6 664.0,369.2 C664.7,370.8 665.3,372.4 666.0,374.0 C666.7,375.6 667.3,377.3 668.0,378.8 C668.7,380.3 669.3,381.5 670.0,382.8 C670.7,384.1 671.3,385.6 672.0,386.9 C672.7,388.2 673.3,389.5 674.0,390.5 C674.7,391.5 675.2,392.2 676.0,392.9 C676.8,393.6 678.0,394.3 679.0,394.9 C680.0,395.5 680.8,396.0 682.0,396.4 C683.2,396.8 684.7,397.1 686.0,397.3 C687.3,397.5 688.5,397.7 690.0,397.7 C691.5,397.7 693.3,397.6 695.0,397.3 C696.7,397.0 698.7,396.5 700.0,396.1 C701.3,395.8 702.0,395.5 703.0,395.2 C704.0,394.9 705.2,394.6 706.0,394.3 C706.8,394.0 707.7,393.7 708.0,393.6" fill="none" stroke="#051220" stroke-width="6" stroke-opacity="1" filter="url(#sh)"/>
<path d="M89.6,424 C89.8,423.3 90.2,421.3 90.5,420.0 C90.8,418.7 91.1,417.4 91.6,416.0 C92.1,414.6 92.6,413.0 93.3,411.5 C94.0,410.0 94.8,408.5 95.6,407.0 C96.4,405.5 97.5,403.7 98.4,402.4 C99.4,401.1 100.3,399.9 101.3,399.0 C102.2,398.1 103.2,397.3 104.1,396.8 C105.0,396.3 106.0,396.1 106.9,396.1 C107.8,396.2 108.7,396.5 109.7,397.1 C110.7,397.7 112.0,398.7 113.1,399.6 C114.2,400.5 115.4,401.4 116.5,402.4 C117.6,403.3 118.8,404.4 119.9,405.3 C121.0,406.2 122.2,406.9 123.3,407.5 C124.3,408.1 125.0,408.2 126.2,408.9 C127.4,409.6 129.1,411.1 130.5,411.7 C131.9,412.3 133.3,412.6 134.7,412.4 C136.1,412.2 137.7,411.4 139.0,410.3 C140.3,409.2 141.4,407.5 142.5,406.0 C143.6,404.5 144.4,402.9 145.3,401.1 C146.2,399.3 147.2,397.3 148.1,395.4 C149.0,393.5 150.1,391.7 151.0,389.8 C151.9,387.9 152.9,385.9 153.8,384.1 C154.7,382.3 155.7,380.9 156.6,379.2 C157.5,377.5 158.3,375.7 159.4,374.2 C160.5,372.7 161.9,371.2 163.0,370.0 C164.1,368.8 164.8,367.7 166.0,366.9 C167.2,366.1 168.7,365.4 170.0,365.0 C171.3,364.6 172.8,364.4 174.0,364.2 C175.2,364.1 176.0,364.1 177.0,364.1 C178.0,364.1 178.8,364.2 180.0,364.4 C181.2,364.6 182.7,364.8 184.0,365.3 C185.3,365.8 186.7,366.5 188.0,367.2 C189.3,367.9 190.7,368.6 192.0,369.4 C193.3,370.2 194.7,371.1 196.0,371.9 C197.3,372.7 198.7,373.6 200.0,374.4 C201.3,375.2 202.7,376.0 204.0,376.6 C205.3,377.2 206.8,377.9 208.0,378.2 C209.2,378.5 210.0,378.5 211.0,378.4 C212.0,378.2 213.0,377.7 214.0,377.3 C215.0,376.9 216.0,376.5 217.0,376.1 C218.0,375.7 219.0,375.3 220.0,375.1 C221.0,374.9 222.0,374.8 223.0,374.7 C224.0,374.6 225.0,374.6 226.0,374.7 C227.0,374.8 228.0,374.8 229.0,375.0 C230.0,375.2 231.0,375.4 232.0,375.8 C233.0,376.1 234.0,376.5 235.0,377.0 C236.0,377.5 237.0,378.0 238.0,378.6 C239.0,379.2 240.0,379.7 241.0,380.4 C242.0,381.1 243.0,381.8 244.0,382.6 C245.0,383.4 246.0,384.3 247.0,385.1 C248.0,385.9 249.2,386.8 250.0,387.6 C250.8,388.4 251.3,389.4 252.0,390.0 C252.7,390.6 253.3,390.8 254.0,391.2 C254.7,391.6 255.2,391.9 256.0,392.1 C256.8,392.3 257.7,392.5 258.5,392.4 C259.3,392.2 260.2,391.8 261.0,391.2 C261.8,390.6 262.3,390.0 263.0,388.8 C263.7,387.6 264.3,385.8 265.0,384.1 C265.7,382.4 266.3,380.6 267.0,378.7 C267.7,376.8 268.3,374.9 269.0,372.8 C269.7,370.7 270.4,368.4 271.0,366.3 C271.6,364.2 272.1,362.4 272.5,360.5 C272.9,358.6 273.1,357.2 273.5,355.0 C273.9,352.8 274.4,349.5 275.0,347.5 C275.6,345.5 276.3,344.2 277.0,343.0 C277.7,341.8 278.3,341.2 279.0,340.5 C279.7,339.8 280.2,339.2 281.0,338.8 C281.8,338.3 283.2,337.9 284.0,337.8 C284.8,337.6 285.3,337.5 286.0,337.6 C286.7,337.7 287.3,337.9 288.0,338.2 C288.7,338.6 289.3,339.0 290.0,339.5 C290.7,340.0 291.3,340.8 292.0,341.5 C292.7,342.2 293.3,343.1 294.0,344.0 C294.7,344.9 295.3,346.0 296.0,347.0 C296.7,348.0 297.3,349.1 298.0,350.0 C298.7,350.9 299.3,351.7 300.0,352.5 C300.7,353.3 301.3,354.1 302.0,354.8 C302.7,355.6 303.3,356.4 304.0,357.0 C304.7,357.6 305.3,358.2 306.0,358.6 C306.7,359.0 307.2,359.4 308.0,359.6 C308.8,359.9 309.7,360.1 310.5,360.1 C311.3,360.1 312.2,360.2 313.0,359.6 C313.8,359.0 314.3,357.8 315.0,356.7 C315.7,355.6 316.3,354.1 317.0,352.8 C317.7,351.5 318.3,350.1 319.0,348.9 C319.7,347.7 320.3,346.5 321.0,345.5 C321.7,344.5 322.3,343.6 323.0,342.7 C323.7,341.8 324.3,341.0 325.0,340.4 C325.7,339.8 326.3,339.4 327.0,339.2 C327.7,339.0 328.3,338.9 329.0,339.0 C329.7,339.1 330.3,339.5 331.0,339.9 C331.7,340.3 332.3,341.1 333.0,341.6 C333.7,342.2 334.3,342.7 335.0,343.2 C335.7,343.7 336.3,344.3 337.0,344.7 C337.7,345.1 338.3,345.3 339.0,345.5 C339.7,345.7 340.3,345.9 341.0,345.8 C341.7,345.8 342.3,345.5 343.0,345.2 C343.7,344.9 344.2,344.3 345.0,343.8 C345.8,343.3 346.8,342.9 348.0,342.3 C349.2,341.7 350.8,340.8 352.0,340.4 C353.2,340.0 354.2,339.9 355.0,340.0 C355.8,340.1 356.3,340.2 357.0,340.8 C357.7,341.4 358.4,342.7 359.0,343.8 C359.6,344.9 360.1,346.3 360.5,347.5 C360.9,348.7 361.2,350.2 361.5,351.1 C361.8,352.0 361.9,352.7 362.2,352.6 C362.5,352.5 363.0,351.5 363.5,350.5 C364.0,349.5 364.4,348.2 365.0,346.8 C365.6,345.4 366.2,343.6 367.0,342.3 C367.8,341.1 369.1,339.9 370.0,339.3 C370.9,338.7 371.7,338.4 372.5,338.5 C373.3,338.6 374.1,338.9 375.0,339.6 C375.9,340.4 377.0,341.9 378.0,343.0 C379.0,344.1 380.2,345.3 381.0,346.0 C381.8,346.7 382.2,347.3 383.0,347.3 C383.8,347.3 384.8,346.7 386.0,346.0 C387.2,345.3 388.7,344.1 390.0,343.0 C391.3,341.9 393.0,340.1 394.0,339.2 C395.0,338.3 395.3,338.1 396.0,337.8 C396.7,337.5 397.3,337.2 398.0,337.5 C398.7,337.8 399.3,338.5 400.0,339.4 C400.7,340.3 401.3,341.9 402.0,343.1 C402.7,344.4 403.5,346.1 404.0,346.9 C404.5,347.7 404.7,348.0 405.2,348.1 C405.7,348.2 406.2,348.0 407.0,347.5 C407.8,347.0 409.0,345.9 410.0,345.0 C411.0,344.1 412.0,343.1 413.0,342.2 C414.0,341.3 415.0,340.4 416.0,339.7 C417.0,339.0 418.0,338.0 419.0,337.8 C420.0,337.6 421.0,338.2 422.0,338.8 C423.0,339.3 424.0,340.3 425.0,341.2 C426.0,342.2 427.0,343.4 428.0,344.4 C429.0,345.4 430.0,346.4 431.0,347.5 C432.0,348.6 433.0,350.1 434.0,351.2 C435.0,352.4 436.2,353.7 437.0,354.4 C437.8,355.1 438.2,355.3 439.0,355.3 C439.8,355.3 441.2,354.9 442.0,354.4 C442.8,353.9 443.2,353.3 444.0,352.4 C444.8,351.5 446.0,350.1 447.0,349.1 C448.0,348.1 449.0,347.2 450.0,346.2 C451.0,345.2 452.0,344.1 453.0,343.2 C454.0,342.3 455.0,341.3 456.0,340.6 C457.0,339.9 458.0,339.5 459.0,339.2 C460.0,338.9 461.0,338.8 462.0,338.8 C463.0,338.9 464.2,339.1 465.0,339.5 C465.8,339.9 466.3,340.2 467.0,341.0 C467.7,341.8 468.3,342.9 469.0,344.3 C469.7,345.7 470.3,347.6 471.0,349.1 C471.7,350.6 472.3,352.3 473.0,353.5 C473.7,354.7 474.2,355.7 475.0,356.4 C475.8,357.1 476.7,357.8 477.5,357.9 C478.3,358.0 479.2,357.4 480.0,356.8 C480.8,356.2 481.3,354.9 482.0,354.2 C482.7,353.5 483.3,353.1 484.0,352.8 C484.7,352.5 485.3,352.4 486.0,352.4 C486.7,352.4 487.4,352.3 488.0,353.0 C488.6,353.7 489.1,354.7 489.5,356.5 C489.9,358.3 490.2,361.6 490.5,364.0 C490.8,366.4 491.2,369.2 491.5,371.1 C491.8,373.0 492.2,374.5 492.5,375.6 C492.8,376.7 493.2,377.7 493.5,377.8 C493.8,377.9 494.2,377.2 494.5,376.2 C494.8,375.2 495.1,373.4 495.5,371.8 C495.9,370.2 496.4,368.3 497.0,366.7 C497.6,365.1 498.3,363.4 499.0,362.2 C499.7,361.0 500.3,360.3 501.0,359.7 C501.7,359.1 502.3,358.6 503.0,358.4 C503.7,358.2 504.3,358.3 505.0,358.4 C505.7,358.4 506.4,359.0 507.0,358.7 C507.6,358.4 508.0,357.5 508.5,356.5 C509.0,355.5 509.5,353.9 510.0,352.7 C510.5,351.5 511.0,350.3 511.5,349.5 C512.0,348.7 512.5,348.1 513.0,348.0 C513.5,347.9 514.0,348.1 514.5,348.6 C515.0,349.1 515.5,350.2 516.0,351.1 C516.5,352.0 517.0,353.2 517.5,354.0 C518.0,354.8 518.4,355.1 519.0,355.6 C519.6,356.1 520.3,356.2 521.0,356.8 C521.7,357.4 522.3,358.3 523.0,359.1 C523.7,359.9 524.3,361.0 525.0,361.6 C525.7,362.2 526.3,363.2 527.0,362.9 C527.7,362.6 528.3,360.8 529.0,359.7 C529.7,358.6 530.3,357.4 531.0,356.5 C531.7,355.6 532.3,354.3 533.0,354.3 C533.7,354.3 534.4,356.1 535.0,356.6 C535.6,357.2 536.0,357.6 536.5,357.6 C537.0,357.6 537.4,357.0 538.0,356.4 C538.6,355.8 539.3,354.6 540.0,353.9 C540.7,353.2 541.3,352.5 542.0,352.4 C542.7,352.3 543.4,352.6 544.0,353.4 C544.6,354.2 545.0,356.2 545.5,357.4 C546.0,358.5 546.4,359.3 547.0,360.3 C547.6,361.3 548.3,361.9 549.0,363.3 C549.7,364.7 550.3,366.5 551.0,368.7 C551.7,370.9 552.3,373.8 553.0,376.7 C553.7,379.6 554.3,383.7 555.0,386.0 C555.7,388.3 556.3,389.2 557.0,390.5 C557.7,391.8 558.3,392.0 559.0,393.5 C559.7,395.0 560.4,397.3 561.0,399.4 C561.6,401.5 562.0,403.8 562.5,406.0 C563.0,408.2 563.5,412.3 564.0,412.8 C564.5,413.3 565.0,411.7 565.5,409.0 C566.0,406.3 566.4,399.4 567.0,396.4 C567.6,393.4 568.4,391.9 569.0,391.0 C569.6,390.1 570.0,390.5 570.5,391.0 C571.0,391.5 571.4,392.8 572.0,394.0 C572.6,395.2 573.3,397.8 574.0,398.0 C574.7,398.2 575.3,396.3 576.0,395.1 C576.7,393.9 577.3,392.1 578.0,390.8 C578.7,389.5 579.3,388.2 580.0,387.1 C580.7,386.0 581.3,384.8 582.0,384.0 C582.7,383.2 583.3,382.8 584.0,382.4 C584.7,382.0 585.3,382.0 586.0,381.8 C586.7,381.6 587.4,382.0 588.0,381.0 C588.6,380.0 589.1,377.7 589.5,376.0 C589.9,374.3 590.1,372.1 590.5,370.7 C590.9,369.3 591.5,369.1 592.0,367.5 C592.5,365.9 593.0,363.5 593.5,361.2 C594.0,358.9 594.4,355.8 595.0,353.8 C595.6,351.8 596.3,350.1 597.0,349.0 C597.7,347.9 598.3,347.2 599.0,346.9 C599.7,346.6 600.3,346.9 601.0,347.4 C601.7,347.9 602.3,349.0 603.0,350.1 C603.7,351.2 604.3,352.7 605.0,353.8 C605.7,354.9 606.3,356.3 607.0,357.0 C607.7,357.7 608.3,358.2 609.0,358.0 C609.7,357.8 610.5,356.7 611.0,355.9 C611.5,355.1 611.7,354.3 612.0,353.1 C612.3,351.9 612.6,350.1 613.0,348.9 C613.4,347.6 613.8,346.4 614.5,345.6 C615.2,344.8 616.1,344.5 617.0,344.1 C617.9,343.7 619.0,343.5 620.0,343.1 C621.0,342.7 622.0,342.4 623.0,341.9 C624.0,341.4 625.0,340.7 626.0,340.0 C627.0,339.3 628.0,338.3 629.0,337.5 C630.0,336.7 631.0,335.9 632.0,335.3 C633.0,334.7 634.0,334.1 635.0,333.8 C636.0,333.4 637.1,333.2 638.0,333.4 C638.9,333.6 639.8,334.3 640.5,335.0 C641.2,335.7 641.5,336.5 642.0,337.5 C642.5,338.5 643.0,339.8 643.5,341.2 C644.0,342.7 644.4,344.8 645.0,346.2 C645.6,347.7 646.2,349.0 647.0,350.0 C647.8,351.0 649.0,351.9 650.0,352.4 C651.0,352.9 652.0,352.7 653.0,353.0 C654.0,353.3 655.2,353.8 656.0,354.3 C656.8,354.9 657.3,355.4 658.0,356.3 C658.7,357.2 659.3,358.6 660.0,359.9 C660.7,361.2 661.3,362.8 662.0,364.3 C662.7,365.9 663.3,367.6 664.0,369.2 C664.7,370.8 665.3,372.4 666.0,374.0 C666.7,375.6 667.3,377.3 668.0,378.8 C668.7,380.3 669.3,381.5 670.0,382.8 C670.7,384.1 671.3,385.6 672.0,386.9 C672.7,388.2 673.3,389.5 674.0,390.5 C674.7,391.5 675.2,392.2 676.0,392.9 C676.8,393.6 678.0,394.3 679.0,394.9 C680.0,395.5 680.8,396.0 682.0,396.4 C683.2,396.8 684.7,397.1 686.0,397.3 C687.3,397.5 688.5,397.7 690.0,397.7 C691.5,397.7 693.3,397.6 695.0,397.3 C696.7,397.0 698.7,396.5 700.0,396.1 C701.3,395.8 702.0,395.5 703.0,395.2 C704.0,394.9 705.2,394.6 706.0,394.3 C706.8,394.0 707.7,393.7 708.0,393.6 L708,498.5 L89.5,498.5 Z" fill="url(#gv)"/>
<path d="M89.6,424 C89.8,423.3 90.2,421.3 90.5,420.0 C90.8,418.7 91.1,417.4 91.6,416.0 C92.1,414.6 92.6,413.0 93.3,411.5 C94.0,410.0 94.8,408.5 95.6,407.0 C96.4,405.5 97.5,403.7 98.4,402.4 C99.4,401.1 100.3,399.9 101.3,399.0 C102.2,398.1 103.2,397.3 104.1,396.8 C105.0,396.3 106.0,396.1 106.9,396.1 C107.8,396.2 108.7,396.5 109.7,397.1 C110.7,397.7 112.0,398.7 113.1,399.6 C114.2,400.5 115.4,401.4 116.5,402.4 C117.6,403.3 118.8,404.4 119.9,405.3 C121.0,406.2 122.2,406.9 123.3,407.5 C124.3,408.1 125.0,408.2 126.2,408.9 C127.4,409.6 129.1,411.1 130.5,411.7 C131.9,412.3 133.3,412.6 134.7,412.4 C136.1,412.2 137.7,411.4 139.0,410.3 C140.3,409.2 141.4,407.5 142.5,406.0 C143.6,404.5 144.4,402.9 145.3,401.1 C146.2,399.3 147.2,397.3 148.1,395.4 C149.0,393.5 150.1,391.7 151.0,389.8 C151.9,387.9 152.9,385.9 153.8,384.1 C154.7,382.3 155.7,380.9 156.6,379.2 C157.5,377.5 158.3,375.7 159.4,374.2 C160.5,372.7 161.9,371.2 163.0,370.0 C164.1,368.8 164.8,367.7 166.0,366.9 C167.2,366.1 168.7,365.4 170.0,365.0 C171.3,364.6 172.8,364.4 174.0,364.2 C175.2,364.1 176.0,364.1 177.0,364.1 C178.0,364.1 178.8,364.2 180.0,364.4 C181.2,364.6 182.7,364.8 184.0,365.3 C185.3,365.8 186.7,366.5 188.0,367.2 C189.3,367.9 190.7,368.6 192.0,369.4 C193.3,370.2 194.7,371.1 196.0,371.9 C197.3,372.7 198.7,373.6 200.0,374.4 C201.3,375.2 202.7,376.0 204.0,376.6 C205.3,377.2 206.8,377.9 208.0,378.2 C209.2,378.5 210.0,378.5 211.0,378.4 C212.0,378.2 213.0,377.7 214.0,377.3 C215.0,376.9 216.0,376.5 217.0,376.1 C218.0,375.7 219.0,375.3 220.0,375.1 C221.0,374.9 222.0,374.8 223.0,374.7 C224.0,374.6 225.0,374.6 226.0,374.7 C227.0,374.8 228.0,374.8 229.0,375.0 C230.0,375.2 231.0,375.4 232.0,375.8 C233.0,376.1 234.0,376.5 235.0,377.0 C236.0,377.5 237.0,378.0 238.0,378.6 C239.0,379.2 240.0,379.7 241.0,380.4 C242.0,381.1 243.0,381.8 244.0,382.6 C245.0,383.4 246.0,384.3 247.0,385.1 C248.0,385.9 249.2,386.8 250.0,387.6 C250.8,388.4 251.3,389.4 252.0,390.0 C252.7,390.6 253.3,390.8 254.0,391.2 C254.7,391.6 255.2,391.9 256.0,392.1 C256.8,392.3 257.7,392.5 258.5,392.4 C259.3,392.2 260.2,391.8 261.0,391.2 C261.8,390.6 262.3,390.0 263.0,388.8 C263.7,387.6 264.3,385.8 265.0,384.1 C265.7,382.4 266.3,380.6 267.0,378.7 C267.7,376.8 268.3,374.9 269.0,372.8 C269.7,370.7 270.4,368.4 271.0,366.3 C271.6,364.2 272.1,362.4 272.5,360.5 C272.9,358.6 273.1,357.2 273.5,355.0 C273.9,352.8 274.4,349.5 275.0,347.5 C275.6,345.5 276.3,344.2 277.0,343.0 C277.7,341.8 278.3,341.2 279.0,340.5 C279.7,339.8 280.2,339.2 281.0,338.8 C281.8,338.3 283.2,337.9 284.0,337.8 C284.8,337.6 285.3,337.5 286.0,337.6 C286.7,337.7 287.3,337.9 288.0,338.2 C288.7,338.6 289.3,339.0 290.0,339.5 C290.7,340.0 291.3,340.8 292.0,341.5 C292.7,342.2 293.3,343.1 294.0,344.0 C294.7,344.9 295.3,346.0 296.0,347.0 C296.7,348.0 297.3,349.1 298.0,350.0 C298.7,350.9 299.3,351.7 300.0,352.5 C300.7,353.3 301.3,354.1 302.0,354.8 C302.7,355.6 303.3,356.4 304.0,357.0 C304.7,357.6 305.3,358.2 306.0,358.6 C306.7,359.0 307.2,359.4 308.0,359.6 C308.8,359.9 309.7,360.1 310.5,360.1 C311.3,360.1 312.2,360.2 313.0,359.6 C313.8,359.0 314.3,357.8 315.0,356.7 C315.7,355.6 316.3,354.1 317.0,352.8 C317.7,351.5 318.3,350.1 319.0,348.9 C319.7,347.7 320.3,346.5 321.0,345.5 C321.7,344.5 322.3,343.6 323.0,342.7 C323.7,341.8 324.3,341.0 325.0,340.4 C325.7,339.8 326.3,339.4 327.0,339.2 C327.7,339.0 328.3,338.9 329.0,339.0 C329.7,339.1 330.3,339.5 331.0,339.9 C331.7,340.3 332.3,341.1 333.0,341.6 C333.7,342.2 334.3,342.7 335.0,343.2 C335.7,343.7 336.3,344.3 337.0,344.7 C337.7,345.1 338.3,345.3 339.0,345.5 C339.7,345.7 340.3,345.9 341.0,345.8 C341.7,345.8 342.3,345.5 343.0,345.2 C343.7,344.9 344.2,344.3 345.0,343.8 C345.8,343.3 346.8,342.9 348.0,342.3 C349.2,341.7 350.8,340.8 352.0,340.4 C353.2,340.0 354.2,339.9 355.0,340.0 C355.8,340.1 356.3,340.2 357.0,340.8 C357.7,341.4 358.4,342.7 359.0,343.8 C359.6,344.9 360.1,346.3 360.5,347.5 C360.9,348.7 361.2,350.2 361.5,351.1 C361.8,352.0 361.9,352.7 362.2,352.6 C362.5,352.5 363.0,351.5 363.5,350.5 C364.0,349.5 364.4,348.2 365.0,346.8 C365.6,345.4 366.2,343.6 367.0,342.3 C367.8,341.1 369.1,339.9 370.0,339.3 C370.9,338.7 371.7,338.4 372.5,338.5 C373.3,338.6 374.1,338.9 375.0,339.6 C375.9,340.4 377.0,341.9 378.0,343.0 C379.0,344.1 380.2,345.3 381.0,346.0 C381.8,346.7 382.2,347.3 383.0,347.3 C383.8,347.3 384.8,346.7 386.0,346.0 C387.2,345.3 388.7,344.1 390.0,343.0 C391.3,341.9 393.0,340.1 394.0,339.2 C395.0,338.3 395.3,338.1 396.0,337.8 C396.7,337.5 397.3,337.2 398.0,337.5 C398.7,337.8 399.3,338.5 400.0,339.4 C400.7,340.3 401.3,341.9 402.0,343.1 C402.7,344.4 403.5,346.1 404.0,346.9 C404.5,347.7 404.7,348.0 405.2,348.1 C405.7,348.2 406.2,348.0 407.0,347.5 C407.8,347.0 409.0,345.9 410.0,345.0 C411.0,344.1 412.0,343.1 413.0,342.2 C414.0,341.3 415.0,340.4 416.0,339.7 C417.0,339.0 418.0,338.0 419.0,337.8 C420.0,337.6 421.0,338.2 422.0,338.8 C423.0,339.3 424.0,340.3 425.0,341.2 C426.0,342.2 427.0,343.4 428.0,344.4 C429.0,345.4 430.0,346.4 431.0,347.5 C432.0,348.6 433.0,350.1 434.0,351.2 C435.0,352.4 436.2,353.7 437.0,354.4 C437.8,355.1 438.2,355.3 439.0,355.3 C439.8,355.3 441.2,354.9 442.0,354.4 C442.8,353.9 443.2,353.3 444.0,352.4 C444.8,351.5 446.0,350.1 447.0,349.1 C448.0,348.1 449.0,347.2 450.0,346.2 C451.0,345.2 452.0,344.1 453.0,343.2 C454.0,342.3 455.0,341.3 456.0,340.6 C457.0,339.9 458.0,339.5 459.0,339.2 C460.0,338.9 461.0,338.8 462.0,338.8 C463.0,338.9 464.2,339.1 465.0,339.5 C465.8,339.9 466.3,340.2 467.0,341.0 C467.7,341.8 468.3,342.9 469.0,344.3 C469.7,345.7 470.3,347.6 471.0,349.1 C471.7,350.6 472.3,352.3 473.0,353.5 C473.7,354.7 474.2,355.7 475.0,356.4 C475.8,357.1 476.7,357.8 477.5,357.9 C478.3,358.0 479.2,357.4 480.0,356.8 C480.8,356.2 481.3,354.9 482.0,354.2 C482.7,353.5 483.3,353.1 484.0,352.8 C484.7,352.5 485.3,352.4 486.0,352.4 C486.7,352.4 487.4,352.3 488.0,353.0 C488.6,353.7 489.1,354.7 489.5,356.5 C489.9,358.3 490.2,361.6 490.5,364.0 C490.8,366.4 491.2,369.2 491.5,371.1 C491.8,373.0 492.2,374.5 492.5,375.6 C492.8,376.7 493.2,377.7 493.5,377.8 C493.8,377.9 494.2,377.2 494.5,376.2 C494.8,375.2 495.1,373.4 495.5,371.8 C495.9,370.2 496.4,368.3 497.0,366.7 C497.6,365.1 498.3,363.4 499.0,362.2 C499.7,361.0 500.3,360.3 501.0,359.7 C501.7,359.1 502.3,358.6 503.0,358.4 C503.7,358.2 504.3,358.3 505.0,358.4 C505.7,358.4 506.4,359.0 507.0,358.7 C507.6,358.4 508.0,357.5 508.5,356.5 C509.0,355.5 509.5,353.9 510.0,352.7 C510.5,351.5 511.0,350.3 511.5,349.5 C512.0,348.7 512.5,348.1 513.0,348.0 C513.5,347.9 514.0,348.1 514.5,348.6 C515.0,349.1 515.5,350.2 516.0,351.1 C516.5,352.0 517.0,353.2 517.5,354.0 C518.0,354.8 518.4,355.1 519.0,355.6 C519.6,356.1 520.3,356.2 521.0,356.8 C521.7,357.4 522.3,358.3 523.0,359.1 C523.7,359.9 524.3,361.0 525.0,361.6 C525.7,362.2 526.3,363.2 527.0,362.9 C527.7,362.6 528.3,360.8 529.0,359.7 C529.7,358.6 530.3,357.4 531.0,356.5 C531.7,355.6 532.3,354.3 533.0,354.3 C533.7,354.3 534.4,356.1 535.0,356.6 C535.6,357.2 536.0,357.6 536.5,357.6 C537.0,357.6 537.4,357.0 538.0,356.4 C538.6,355.8 539.3,354.6 540.0,353.9 C540.7,353.2 541.3,352.5 542.0,352.4 C542.7,352.3 543.4,352.6 544.0,353.4 C544.6,354.2 545.0,356.2 545.5,357.4 C546.0,358.5 546.4,359.3 547.0,360.3 C547.6,361.3 548.3,361.9 549.0,363.3 C549.7,364.7 550.3,366.5 551.0,368.7 C551.7,370.9 552.3,373.8 553.0,376.7 C553.7,379.6 554.3,383.7 555.0,386.0 C555.7,388.3 556.3,389.2 557.0,390.5 C557.7,391.8 558.3,392.0 559.0,393.5 C559.7,395.0 560.4,397.3 561.0,399.4 C561.6,401.5 562.0,403.8 562.5,406.0 C563.0,408.2 563.5,412.3 564.0,412.8 C564.5,413.3 565.0,411.7 565.5,409.0 C566.0,406.3 566.4,399.4 567.0,396.4 C567.6,393.4 568.4,391.9 569.0,391.0 C569.6,390.1 570.0,390.5 570.5,391.0 C571.0,391.5 571.4,392.8 572.0,394.0 C572.6,395.2 573.3,397.8 574.0,398.0 C574.7,398.2 575.3,396.3 576.0,395.1 C576.7,393.9 577.3,392.1 578.0,390.8 C578.7,389.5 579.3,388.2 580.0,387.1 C580.7,386.0 581.3,384.8 582.0,384.0 C582.7,383.2 583.3,382.8 584.0,382.4 C584.7,382.0 585.3,382.0 586.0,381.8 C586.7,381.6 587.4,382.0 588.0,381.0 C588.6,380.0 589.1,377.7 589.5,376.0 C589.9,374.3 590.1,372.1 590.5,370.7 C590.9,369.3 591.5,369.1 592.0,367.5 C592.5,365.9 593.0,363.5 593.5,361.2 C594.0,358.9 594.4,355.8 595.0,353.8 C595.6,351.8 596.3,350.1 597.0,349.0 C597.7,347.9 598.3,347.2 599.0,346.9 C599.7,346.6 600.3,346.9 601.0,347.4 C601.7,347.9 602.3,349.0 603.0,350.1 C603.7,351.2 604.3,352.7 605.0,353.8 C605.7,354.9 606.3,356.3 607.0,357.0 C607.7,357.7 608.3,358.2 609.0,358.0 C609.7,357.8 610.5,356.7 611.0,355.9 C611.5,355.1 611.7,354.3 612.0,353.1 C612.3,351.9 612.6,350.1 613.0,348.9 C613.4,347.6 613.8,346.4 614.5,345.6 C615.2,344.8 616.1,344.5 617.0,344.1 C617.9,343.7 619.0,343.5 620.0,343.1 C621.0,342.7 622.0,342.4 623.0,341.9 C624.0,341.4 625.0,340.7 626.0,340.0 C627.0,339.3 628.0,338.3 629.0,337.5 C630.0,336.7 631.0,335.9 632.0,335.3 C633.0,334.7 634.0,334.1 635.0,333.8 C636.0,333.4 637.1,333.2 638.0,333.4 C638.9,333.6 639.8,334.3 640.5,335.0 C641.2,335.7 641.5,336.5 642.0,337.5 C642.5,338.5 643.0,339.8 643.5,341.2 C644.0,342.7 644.4,344.8 645.0,346.2 C645.6,347.7 646.2,349.0 647.0,350.0 C647.8,351.0 649.0,351.9 650.0,352.4 C651.0,352.9 652.0,352.7 653.0,353.0 C654.0,353.3 655.2,353.8 656.0,354.3 C656.8,354.9 657.3,355.4 658.0,356.3 C658.7,357.2 659.3,358.6 660.0,359.9 C660.7,361.2 661.3,362.8 662.0,364.3 C662.7,365.9 663.3,367.6 664.0,369.2 C664.7,370.8 665.3,372.4 666.0,374.0 C666.7,375.6 667.3,377.3 668.0,378.8 C668.7,380.3 669.3,381.5 670.0,382.8 C670.7,384.1 671.3,385.6 672.0,386.9 C672.7,388.2 673.3,389.5 674.0,390.5 C674.7,391.5 675.2,392.2 676.0,392.9 C676.8,393.6 678.0,394.3 679.0,394.9 C680.0,395.5 680.8,396.0 682.0,396.4 C683.2,396.8 684.7,397.1 686.0,397.3 C687.3,397.5 688.5,397.7 690.0,397.7 C691.5,397.7 693.3,397.6 695.0,397.3 C696.7,397.0 698.7,396.5 700.0,396.1 C701.3,395.8 702.0,395.5 703.0,395.2 C704.0,394.9 705.2,394.6 706.0,394.3 C706.8,394.0 707.7,393.7 708.0,393.6 L708,498.5 L89.5,498.5 Z" fill="url(#gr)" mask="url(#mv)"/>
<g clip-path="url(#cf)"><rect x="0" y="300" width="800" height="200" fill="url(#gx)"/><path d="M89.6,424 C89.8,423.3 90.2,421.3 90.5,420.0 C90.8,418.7 91.1,417.4 91.6,416.0 C92.1,414.6 92.6,413.0 93.3,411.5 C94.0,410.0 94.8,408.5 95.6,407.0 C96.4,405.5 97.5,403.7 98.4,402.4 C99.4,401.1 100.3,399.9 101.3,399.0 C102.2,398.1 103.2,397.3 104.1,396.8 C105.0,396.3 106.0,396.1 106.9,396.1 C107.8,396.2 108.7,396.5 109.7,397.1 C110.7,397.7 112.0,398.7 113.1,399.6 C114.2,400.5 115.4,401.4 116.5,402.4 C117.6,403.3 118.8,404.4 119.9,405.3 C121.0,406.2 122.2,406.9 123.3,407.5 C124.3,408.1 125.0,408.2 126.2,408.9 C127.4,409.6 129.1,411.1 130.5,411.7 C131.9,412.3 133.3,412.6 134.7,412.4 C136.1,412.2 137.7,411.4 139.0,410.3 C140.3,409.2 141.4,407.5 142.5,406.0 C143.6,404.5 144.4,402.9 145.3,401.1 C146.2,399.3 147.2,397.3 148.1,395.4 C149.0,393.5 150.1,391.7 151.0,389.8 C151.9,387.9 152.9,385.9 153.8,384.1 C154.7,382.3 155.7,380.9 156.6,379.2 C157.5,377.5 158.3,375.7 159.4,374.2 C160.5,372.7 161.9,371.2 163.0,370.0 C164.1,368.8 164.8,367.7 166.0,366.9 C167.2,366.1 168.7,365.4 170.0,365.0 C171.3,364.6 172.8,364.4 174.0,364.2 C175.2,364.1 176.0,364.1 177.0,364.1 C178.0,364.1 178.8,364.2 180.0,364.4 C181.2,364.6 182.7,364.8 184.0,365.3 C185.3,365.8 186.7,366.5 188.0,367.2 C189.3,367.9 190.7,368.6 192.0,369.4 C193.3,370.2 194.7,371.1 196.0,371.9 C197.3,372.7 198.7,373.6 200.0,374.4 C201.3,375.2 202.7,376.0 204.0,376.6 C205.3,377.2 206.8,377.9 208.0,378.2 C209.2,378.5 210.0,378.5 211.0,378.4 C212.0,378.2 213.0,377.7 214.0,377.3 C215.0,376.9 216.0,376.5 217.0,376.1 C218.0,375.7 219.0,375.3 220.0,375.1 C221.0,374.9 222.0,374.8 223.0,374.7 C224.0,374.6 225.0,374.6 226.0,374.7 C227.0,374.8 228.0,374.8 229.0,375.0 C230.0,375.2 231.0,375.4 232.0,375.8 C233.0,376.1 234.0,376.5 235.0,377.0 C236.0,377.5 237.0,378.0 238.0,378.6 C239.0,379.2 240.0,379.7 241.0,380.4 C242.0,381.1 243.0,381.8 244.0,382.6 C245.0,383.4 246.0,384.3 247.0,385.1 C248.0,385.9 249.2,386.8 250.0,387.6 C250.8,388.4 251.3,389.4 252.0,390.0 C252.7,390.6 253.3,390.8 254.0,391.2 C254.7,391.6 255.2,391.9 256.0,392.1 C256.8,392.3 257.7,392.5 258.5,392.4 C259.3,392.2 260.2,391.8 261.0,391.2 C261.8,390.6 262.3,390.0 263.0,388.8 C263.7,387.6 264.3,385.8 265.0,384.1 C265.7,382.4 266.3,380.6 267.0,378.7 C267.7,376.8 268.3,374.9 269.0,372.8 C269.7,370.7 270.4,368.4 271.0,366.3 C271.6,364.2 272.1,362.4 272.5,360.5 C272.9,358.6 273.1,357.2 273.5,355.0 C273.9,352.8 274.4,349.5 275.0,347.5 C275.6,345.5 276.3,344.2 277.0,343.0 C277.7,341.8 278.3,341.2 279.0,340.5 C279.7,339.8 280.2,339.2 281.0,338.8 C281.8,338.3 283.2,337.9 284.0,337.8 C284.8,337.6 285.3,337.5 286.0,337.6 C286.7,337.7 287.3,337.9 288.0,338.2 C288.7,338.6 289.3,339.0 290.0,339.5 C290.7,340.0 291.3,340.8 292.0,341.5 C292.7,342.2 293.3,343.1 294.0,344.0 C294.7,344.9 295.3,346.0 296.0,347.0 C296.7,348.0 297.3,349.1 298.0,350.0 C298.7,350.9 299.3,351.7 300.0,352.5 C300.7,353.3 301.3,354.1 302.0,354.8 C302.7,355.6 303.3,356.4 304.0,357.0 C304.7,357.6 305.3,358.2 306.0,358.6 C306.7,359.0 307.2,359.4 308.0,359.6 C308.8,359.9 309.7,360.1 310.5,360.1 C311.3,360.1 312.2,360.2 313.0,359.6 C313.8,359.0 314.3,357.8 315.0,356.7 C315.7,355.6 316.3,354.1 317.0,352.8 C317.7,351.5 318.3,350.1 319.0,348.9 C319.7,347.7 320.3,346.5 321.0,345.5 C321.7,344.5 322.3,343.6 323.0,342.7 C323.7,341.8 324.3,341.0 325.0,340.4 C325.7,339.8 326.3,339.4 327.0,339.2 C327.7,339.0 328.3,338.9 329.0,339.0 C329.7,339.1 330.3,339.5 331.0,339.9 C331.7,340.3 332.3,341.1 333.0,341.6 C333.7,342.2 334.3,342.7 335.0,343.2 C335.7,343.7 336.3,344.3 337.0,344.7 C337.7,345.1 338.3,345.3 339.0,345.5 C339.7,345.7 340.3,345.9 341.0,345.8 C341.7,345.8 342.3,345.5 343.0,345.2 C343.7,344.9 344.2,344.3 345.0,343.8 C345.8,343.3 346.8,342.9 348.0,342.3 C349.2,341.7 350.8,340.8 352.0,340.4 C353.2,340.0 354.2,339.9 355.0,340.0 C355.8,340.1 356.3,340.2 357.0,340.8 C357.7,341.4 358.4,342.7 359.0,343.8 C359.6,344.9 360.1,346.3 360.5,347.5 C360.9,348.7 361.2,350.2 361.5,351.1 C361.8,352.0 361.9,352.7 362.2,352.6 C362.5,352.5 363.0,351.5 363.5,350.5 C364.0,349.5 364.4,348.2 365.0,346.8 C365.6,345.4 366.2,343.6 367.0,342.3 C367.8,341.1 369.1,339.9 370.0,339.3 C370.9,338.7 371.7,338.4 372.5,338.5 C373.3,338.6 374.1,338.9 375.0,339.6 C375.9,340.4 377.0,341.9 378.0,343.0 C379.0,344.1 380.2,345.3 381.0,346.0 C381.8,346.7 382.2,347.3 383.0,347.3 C383.8,347.3 384.8,346.7 386.0,346.0 C387.2,345.3 388.7,344.1 390.0,343.0 C391.3,341.9 393.0,340.1 394.0,339.2 C395.0,338.3 395.3,338.1 396.0,337.8 C396.7,337.5 397.3,337.2 398.0,337.5 C398.7,337.8 399.3,338.5 400.0,339.4 C400.7,340.3 401.3,341.9 402.0,343.1 C402.7,344.4 403.5,346.1 404.0,346.9 C404.5,347.7 404.7,348.0 405.2,348.1 C405.7,348.2 406.2,348.0 407.0,347.5 C407.8,347.0 409.0,345.9 410.0,345.0 C411.0,344.1 412.0,343.1 413.0,342.2 C414.0,341.3 415.0,340.4 416.0,339.7 C417.0,339.0 418.0,338.0 419.0,337.8 C420.0,337.6 421.0,338.2 422.0,338.8 C423.0,339.3 424.0,340.3 425.0,341.2 C426.0,342.2 427.0,343.4 428.0,344.4 C429.0,345.4 430.0,346.4 431.0,347.5 C432.0,348.6 433.0,350.1 434.0,351.2 C435.0,352.4 436.2,353.7 437.0,354.4 C437.8,355.1 438.2,355.3 439.0,355.3 C439.8,355.3 441.2,354.9 442.0,354.4 C442.8,353.9 443.2,353.3 444.0,352.4 C444.8,351.5 446.0,350.1 447.0,349.1 C448.0,348.1 449.0,347.2 450.0,346.2 C451.0,345.2 452.0,344.1 453.0,343.2 C454.0,342.3 455.0,341.3 456.0,340.6 C457.0,339.9 458.0,339.5 459.0,339.2 C460.0,338.9 461.0,338.8 462.0,338.8 C463.0,338.9 464.2,339.1 465.0,339.5 C465.8,339.9 466.3,340.2 467.0,341.0 C467.7,341.8 468.3,342.9 469.0,344.3 C469.7,345.7 470.3,347.6 471.0,349.1 C471.7,350.6 472.3,352.3 473.0,353.5 C473.7,354.7 474.2,355.7 475.0,356.4 C475.8,357.1 476.7,357.8 477.5,357.9 C478.3,358.0 479.2,357.4 480.0,356.8 C480.8,356.2 481.3,354.9 482.0,354.2 C482.7,353.5 483.3,353.1 484.0,352.8 C484.7,352.5 485.3,352.4 486.0,352.4 C486.7,352.4 487.4,352.3 488.0,353.0 C488.6,353.7 489.1,354.7 489.5,356.5 C489.9,358.3 490.2,361.6 490.5,364.0 C490.8,366.4 491.2,369.2 491.5,371.1 C491.8,373.0 492.2,374.5 492.5,375.6 C492.8,376.7 493.2,377.7 493.5,377.8 C493.8,377.9 494.2,377.2 494.5,376.2 C494.8,375.2 495.1,373.4 495.5,371.8 C495.9,370.2 496.4,368.3 497.0,366.7 C497.6,365.1 498.3,363.4 499.0,362.2 C499.7,361.0 500.3,360.3 501.0,359.7 C501.7,359.1 502.3,358.6 503.0,358.4 C503.7,358.2 504.3,358.3 505.0,358.4 C505.7,358.4 506.4,359.0 507.0,358.7 C507.6,358.4 508.0,357.5 508.5,356.5 C509.0,355.5 509.5,353.9 510.0,352.7 C510.5,351.5 511.0,350.3 511.5,349.5 C512.0,348.7 512.5,348.1 513.0,348.0 C513.5,347.9 514.0,348.1 514.5,348.6 C515.0,349.1 515.5,350.2 516.0,351.1 C516.5,352.0 517.0,353.2 517.5,354.0 C518.0,354.8 518.4,355.1 519.0,355.6 C519.6,356.1 520.3,356.2 521.0,356.8 C521.7,357.4 522.3,358.3 523.0,359.1 C523.7,359.9 524.3,361.0 525.0,361.6 C525.7,362.2 526.3,363.2 527.0,362.9 C527.7,362.6 528.3,360.8 529.0,359.7 C529.7,358.6 530.3,357.4 531.0,356.5 C531.7,355.6 532.3,354.3 533.0,354.3 C533.7,354.3 534.4,356.1 535.0,356.6 C535.6,357.2 536.0,357.6 536.5,357.6 C537.0,357.6 537.4,357.0 538.0,356.4 C538.6,355.8 539.3,354.6 540.0,353.9 C540.7,353.2 541.3,352.5 542.0,352.4 C542.7,352.3 543.4,352.6 544.0,353.4 C544.6,354.2 545.0,356.2 545.5,357.4 C546.0,358.5 546.4,359.3 547.0,360.3 C547.6,361.3 548.3,361.9 549.0,363.3 C549.7,364.7 550.3,366.5 551.0,368.7 C551.7,370.9 552.3,373.8 553.0,376.7 C553.7,379.6 554.3,383.7 555.0,386.0 C555.7,388.3 556.3,389.2 557.0,390.5 C557.7,391.8 558.3,392.0 559.0,393.5 C559.7,395.0 560.4,397.3 561.0,399.4 C561.6,401.5 562.0,403.8 562.5,406.0 C563.0,408.2 563.5,412.3 564.0,412.8 C564.5,413.3 565.0,411.7 565.5,409.0 C566.0,406.3 566.4,399.4 567.0,396.4 C567.6,393.4 568.4,391.9 569.0,391.0 C569.6,390.1 570.0,390.5 570.5,391.0 C571.0,391.5 571.4,392.8 572.0,394.0 C572.6,395.2 573.3,397.8 574.0,398.0 C574.7,398.2 575.3,396.3 576.0,395.1 C576.7,393.9 577.3,392.1 578.0,390.8 C578.7,389.5 579.3,388.2 580.0,387.1 C580.7,386.0 581.3,384.8 582.0,384.0 C582.7,383.2 583.3,382.8 584.0,382.4 C584.7,382.0 585.3,382.0 586.0,381.8 C586.7,381.6 587.4,382.0 588.0,381.0 C588.6,380.0 589.1,377.7 589.5,376.0 C589.9,374.3 590.1,372.1 590.5,370.7 C590.9,369.3 591.5,369.1 592.0,367.5 C592.5,365.9 593.0,363.5 593.5,361.2 C594.0,358.9 594.4,355.8 595.0,353.8 C595.6,351.8 596.3,350.1 597.0,349.0 C597.7,347.9 598.3,347.2 599.0,346.9 C599.7,346.6 600.3,346.9 601.0,347.4 C601.7,347.9 602.3,349.0 603.0,350.1 C603.7,351.2 604.3,352.7 605.0,353.8 C605.7,354.9 606.3,356.3 607.0,357.0 C607.7,357.7 608.3,358.2 609.0,358.0 C609.7,357.8 610.5,356.7 611.0,355.9 C611.5,355.1 611.7,354.3 612.0,353.1 C612.3,351.9 612.6,350.1 613.0,348.9 C613.4,347.6 613.8,346.4 614.5,345.6 C615.2,344.8 616.1,344.5 617.0,344.1 C617.9,343.7 619.0,343.5 620.0,343.1 C621.0,342.7 622.0,342.4 623.0,341.9 C624.0,341.4 625.0,340.7 626.0,340.0 C627.0,339.3 628.0,338.3 629.0,337.5 C630.0,336.7 631.0,335.9 632.0,335.3 C633.0,334.7 634.0,334.1 635.0,333.8 C636.0,333.4 637.1,333.2 638.0,333.4 C638.9,333.6 639.8,334.3 640.5,335.0 C641.2,335.7 641.5,336.5 642.0,337.5 C642.5,338.5 643.0,339.8 643.5,341.2 C644.0,342.7 644.4,344.8 645.0,346.2 C645.6,347.7 646.2,349.0 647.0,350.0 C647.8,351.0 649.0,351.9 650.0,352.4 C651.0,352.9 652.0,352.7 653.0,353.0 C654.0,353.3 655.2,353.8 656.0,354.3 C656.8,354.9 657.3,355.4 658.0,356.3 C658.7,357.2 659.3,358.6 660.0,359.9 C660.7,361.2 661.3,362.8 662.0,364.3 C662.7,365.9 663.3,367.6 664.0,369.2 C664.7,370.8 665.3,372.4 666.0,374.0 C666.7,375.6 667.3,377.3 668.0,378.8 C668.7,380.3 669.3,381.5 670.0,382.8 C670.7,384.1 671.3,385.6 672.0,386.9 C672.7,388.2 673.3,389.5 674.0,390.5 C674.7,391.5 675.2,392.2 676.0,392.9 C676.8,393.6 678.0,394.3 679.0,394.9 C680.0,395.5 680.8,396.0 682.0,396.4 C683.2,396.8 684.7,397.1 686.0,397.3 C687.3,397.5 688.5,397.7 690.0,397.7 C691.5,397.7 693.3,397.6 695.0,397.3 C696.7,397.0 698.7,396.5 700.0,396.1 C701.3,395.8 702.0,395.5 703.0,395.2 C704.0,394.9 705.2,394.6 706.0,394.3 C706.8,394.0 707.7,393.7 708.0,393.6" fill="none" stroke="#1cb4ee" stroke-width="24" stroke-opacity=".45" filter="url(#ig)"/></g>
<g stroke="#ffffff" stroke-opacity=".14" stroke-width="1" clip-path="url(#cf)"><line x1="142.4" y1="305" x2="142.4" y2="498"/><line x1="164.4" y1="305" x2="164.4" y2="498"/><line x1="184.4" y1="305" x2="184.4" y2="498"/><line x1="199.7" y1="305" x2="199.7" y2="498"/><line x1="211.5" y1="305" x2="211.5" y2="498"/><line x1="223.7" y1="305" x2="223.7" y2="498"/><line x1="231.5" y1="305" x2="231.5" y2="498"/><line x1="241.9" y1="305" x2="241.9" y2="498"/><line x1="301.3" y1="305" x2="301.3" y2="498"/><line x1="327" y1="305" x2="327" y2="498"/><line x1="351.2" y1="305" x2="351.2" y2="498"/><line x1="370.6" y1="305" x2="370.6" y2="498"/><line x1="383.8" y1="305" x2="383.8" y2="498"/><line x1="397.5" y1="305" x2="397.5" y2="498"/><line x1="409.4" y1="305" x2="409.4" y2="498"/><line x1="419.4" y1="305" x2="419.4" y2="498"/><line x1="433.8" y1="305" x2="433.8" y2="498"/><line x1="502.5" y1="305" x2="502.5" y2="498"/><line x1="512.3" y1="305" x2="512.3" y2="498"/><line x1="542.1" y1="305" x2="542.1" y2="498"/><line x1="561.5" y1="305" x2="561.5" y2="498"/><line x1="573.8" y1="305" x2="573.8" y2="498"/><line x1="589.4" y1="305" x2="589.4" y2="498"/><line x1="599.6" y1="305" x2="599.6" y2="498"/><line x1="608.5" y1="305" x2="608.5" y2="498"/><line x1="617.5" y1="305" x2="617.5" y2="498"/><line x1="676.5" y1="305" x2="676.5" y2="498"/><line x1="88" y1="353.8" x2="706.5" y2="353.8"/><line x1="88" y1="390.1" x2="706.5" y2="390.1"/><line x1="88" y1="427.3" x2="706.5" y2="427.3"/><line x1="88" y1="463.6" x2="706.5" y2="463.6"/></g>
<path d="M89.6,424 C89.8,423.3 90.2,421.3 90.5,420.0 C90.8,418.7 91.1,417.4 91.6,416.0 C92.1,414.6 92.6,413.0 93.3,411.5 C94.0,410.0 94.8,408.5 95.6,407.0 C96.4,405.5 97.5,403.7 98.4,402.4 C99.4,401.1 100.3,399.9 101.3,399.0 C102.2,398.1 103.2,397.3 104.1,396.8 C105.0,396.3 106.0,396.1 106.9,396.1 C107.8,396.2 108.7,396.5 109.7,397.1 C110.7,397.7 112.0,398.7 113.1,399.6 C114.2,400.5 115.4,401.4 116.5,402.4 C117.6,403.3 118.8,404.4 119.9,405.3 C121.0,406.2 122.2,406.9 123.3,407.5 C124.3,408.1 125.0,408.2 126.2,408.9 C127.4,409.6 129.1,411.1 130.5,411.7 C131.9,412.3 133.3,412.6 134.7,412.4 C136.1,412.2 137.7,411.4 139.0,410.3 C140.3,409.2 141.4,407.5 142.5,406.0 C143.6,404.5 144.4,402.9 145.3,401.1 C146.2,399.3 147.2,397.3 148.1,395.4 C149.0,393.5 150.1,391.7 151.0,389.8 C151.9,387.9 152.9,385.9 153.8,384.1 C154.7,382.3 155.7,380.9 156.6,379.2 C157.5,377.5 158.3,375.7 159.4,374.2 C160.5,372.7 161.9,371.2 163.0,370.0 C164.1,368.8 164.8,367.7 166.0,366.9 C167.2,366.1 168.7,365.4 170.0,365.0 C171.3,364.6 172.8,364.4 174.0,364.2 C175.2,364.1 176.0,364.1 177.0,364.1 C178.0,364.1 178.8,364.2 180.0,364.4 C181.2,364.6 182.7,364.8 184.0,365.3 C185.3,365.8 186.7,366.5 188.0,367.2 C189.3,367.9 190.7,368.6 192.0,369.4 C193.3,370.2 194.7,371.1 196.0,371.9 C197.3,372.7 198.7,373.6 200.0,374.4 C201.3,375.2 202.7,376.0 204.0,376.6 C205.3,377.2 206.8,377.9 208.0,378.2 C209.2,378.5 210.0,378.5 211.0,378.4 C212.0,378.2 213.0,377.7 214.0,377.3 C215.0,376.9 216.0,376.5 217.0,376.1 C218.0,375.7 219.0,375.3 220.0,375.1 C221.0,374.9 222.0,374.8 223.0,374.7 C224.0,374.6 225.0,374.6 226.0,374.7 C227.0,374.8 228.0,374.8 229.0,375.0 C230.0,375.2 231.0,375.4 232.0,375.8 C233.0,376.1 234.0,376.5 235.0,377.0 C236.0,377.5 237.0,378.0 238.0,378.6 C239.0,379.2 240.0,379.7 241.0,380.4 C242.0,381.1 243.0,381.8 244.0,382.6 C245.0,383.4 246.0,384.3 247.0,385.1 C248.0,385.9 249.2,386.8 250.0,387.6 C250.8,388.4 251.3,389.4 252.0,390.0 C252.7,390.6 253.3,390.8 254.0,391.2 C254.7,391.6 255.2,391.9 256.0,392.1 C256.8,392.3 257.7,392.5 258.5,392.4 C259.3,392.2 260.2,391.8 261.0,391.2 C261.8,390.6 262.3,390.0 263.0,388.8 C263.7,387.6 264.3,385.8 265.0,384.1 C265.7,382.4 266.3,380.6 267.0,378.7 C267.7,376.8 268.3,374.9 269.0,372.8 C269.7,370.7 270.4,368.4 271.0,366.3 C271.6,364.2 272.1,362.4 272.5,360.5 C272.9,358.6 273.1,357.2 273.5,355.0 C273.9,352.8 274.4,349.5 275.0,347.5 C275.6,345.5 276.3,344.2 277.0,343.0 C277.7,341.8 278.3,341.2 279.0,340.5 C279.7,339.8 280.2,339.2 281.0,338.8 C281.8,338.3 283.2,337.9 284.0,337.8 C284.8,337.6 285.3,337.5 286.0,337.6 C286.7,337.7 287.3,337.9 288.0,338.2 C288.7,338.6 289.3,339.0 290.0,339.5 C290.7,340.0 291.3,340.8 292.0,341.5 C292.7,342.2 293.3,343.1 294.0,344.0 C294.7,344.9 295.3,346.0 296.0,347.0 C296.7,348.0 297.3,349.1 298.0,350.0 C298.7,350.9 299.3,351.7 300.0,352.5 C300.7,353.3 301.3,354.1 302.0,354.8 C302.7,355.6 303.3,356.4 304.0,357.0 C304.7,357.6 305.3,358.2 306.0,358.6 C306.7,359.0 307.2,359.4 308.0,359.6 C308.8,359.9 309.7,360.1 310.5,360.1 C311.3,360.1 312.2,360.2 313.0,359.6 C313.8,359.0 314.3,357.8 315.0,356.7 C315.7,355.6 316.3,354.1 317.0,352.8 C317.7,351.5 318.3,350.1 319.0,348.9 C319.7,347.7 320.3,346.5 321.0,345.5 C321.7,344.5 322.3,343.6 323.0,342.7 C323.7,341.8 324.3,341.0 325.0,340.4 C325.7,339.8 326.3,339.4 327.0,339.2 C327.7,339.0 328.3,338.9 329.0,339.0 C329.7,339.1 330.3,339.5 331.0,339.9 C331.7,340.3 332.3,341.1 333.0,341.6 C333.7,342.2 334.3,342.7 335.0,343.2 C335.7,343.7 336.3,344.3 337.0,344.7 C337.7,345.1 338.3,345.3 339.0,345.5 C339.7,345.7 340.3,345.9 341.0,345.8 C341.7,345.8 342.3,345.5 343.0,345.2 C343.7,344.9 344.2,344.3 345.0,343.8 C345.8,343.3 346.8,342.9 348.0,342.3 C349.2,341.7 350.8,340.8 352.0,340.4 C353.2,340.0 354.2,339.9 355.0,340.0 C355.8,340.1 356.3,340.2 357.0,340.8 C357.7,341.4 358.4,342.7 359.0,343.8 C359.6,344.9 360.1,346.3 360.5,347.5 C360.9,348.7 361.2,350.2 361.5,351.1 C361.8,352.0 361.9,352.7 362.2,352.6 C362.5,352.5 363.0,351.5 363.5,350.5 C364.0,349.5 364.4,348.2 365.0,346.8 C365.6,345.4 366.2,343.6 367.0,342.3 C367.8,341.1 369.1,339.9 370.0,339.3 C370.9,338.7 371.7,338.4 372.5,338.5 C373.3,338.6 374.1,338.9 375.0,339.6 C375.9,340.4 377.0,341.9 378.0,343.0 C379.0,344.1 380.2,345.3 381.0,346.0 C381.8,346.7 382.2,347.3 383.0,347.3 C383.8,347.3 384.8,346.7 386.0,346.0 C387.2,345.3 388.7,344.1 390.0,343.0 C391.3,341.9 393.0,340.1 394.0,339.2 C395.0,338.3 395.3,338.1 396.0,337.8 C396.7,337.5 397.3,337.2 398.0,337.5 C398.7,337.8 399.3,338.5 400.0,339.4 C400.7,340.3 401.3,341.9 402.0,343.1 C402.7,344.4 403.5,346.1 404.0,346.9 C404.5,347.7 404.7,348.0 405.2,348.1 C405.7,348.2 406.2,348.0 407.0,347.5 C407.8,347.0 409.0,345.9 410.0,345.0 C411.0,344.1 412.0,343.1 413.0,342.2 C414.0,341.3 415.0,340.4 416.0,339.7 C417.0,339.0 418.0,338.0 419.0,337.8 C420.0,337.6 421.0,338.2 422.0,338.8 C423.0,339.3 424.0,340.3 425.0,341.2 C426.0,342.2 427.0,343.4 428.0,344.4 C429.0,345.4 430.0,346.4 431.0,347.5 C432.0,348.6 433.0,350.1 434.0,351.2 C435.0,352.4 436.2,353.7 437.0,354.4 C437.8,355.1 438.2,355.3 439.0,355.3 C439.8,355.3 441.2,354.9 442.0,354.4 C442.8,353.9 443.2,353.3 444.0,352.4 C444.8,351.5 446.0,350.1 447.0,349.1 C448.0,348.1 449.0,347.2 450.0,346.2 C451.0,345.2 452.0,344.1 453.0,343.2 C454.0,342.3 455.0,341.3 456.0,340.6 C457.0,339.9 458.0,339.5 459.0,339.2 C460.0,338.9 461.0,338.8 462.0,338.8 C463.0,338.9 464.2,339.1 465.0,339.5 C465.8,339.9 466.3,340.2 467.0,341.0 C467.7,341.8 468.3,342.9 469.0,344.3 C469.7,345.7 470.3,347.6 471.0,349.1 C471.7,350.6 472.3,352.3 473.0,353.5 C473.7,354.7 474.2,355.7 475.0,356.4 C475.8,357.1 476.7,357.8 477.5,357.9 C478.3,358.0 479.2,357.4 480.0,356.8 C480.8,356.2 481.3,354.9 482.0,354.2 C482.7,353.5 483.3,353.1 484.0,352.8 C484.7,352.5 485.3,352.4 486.0,352.4 C486.7,352.4 487.4,352.3 488.0,353.0 C488.6,353.7 489.1,354.7 489.5,356.5 C489.9,358.3 490.2,361.6 490.5,364.0 C490.8,366.4 491.2,369.2 491.5,371.1 C491.8,373.0 492.2,374.5 492.5,375.6 C492.8,376.7 493.2,377.7 493.5,377.8 C493.8,377.9 494.2,377.2 494.5,376.2 C494.8,375.2 495.1,373.4 495.5,371.8 C495.9,370.2 496.4,368.3 497.0,366.7 C497.6,365.1 498.3,363.4 499.0,362.2 C499.7,361.0 500.3,360.3 501.0,359.7 C501.7,359.1 502.3,358.6 503.0,358.4 C503.7,358.2 504.3,358.3 505.0,358.4 C505.7,358.4 506.4,359.0 507.0,358.7 C507.6,358.4 508.0,357.5 508.5,356.5 C509.0,355.5 509.5,353.9 510.0,352.7 C510.5,351.5 511.0,350.3 511.5,349.5 C512.0,348.7 512.5,348.1 513.0,348.0 C513.5,347.9 514.0,348.1 514.5,348.6 C515.0,349.1 515.5,350.2 516.0,351.1 C516.5,352.0 517.0,353.2 517.5,354.0 C518.0,354.8 518.4,355.1 519.0,355.6 C519.6,356.1 520.3,356.2 521.0,356.8 C521.7,357.4 522.3,358.3 523.0,359.1 C523.7,359.9 524.3,361.0 525.0,361.6 C525.7,362.2 526.3,363.2 527.0,362.9 C527.7,362.6 528.3,360.8 529.0,359.7 C529.7,358.6 530.3,357.4 531.0,356.5 C531.7,355.6 532.3,354.3 533.0,354.3 C533.7,354.3 534.4,356.1 535.0,356.6 C535.6,357.2 536.0,357.6 536.5,357.6 C537.0,357.6 537.4,357.0 538.0,356.4 C538.6,355.8 539.3,354.6 540.0,353.9 C540.7,353.2 541.3,352.5 542.0,352.4 C542.7,352.3 543.4,352.6 544.0,353.4 C544.6,354.2 545.0,356.2 545.5,357.4 C546.0,358.5 546.4,359.3 547.0,360.3 C547.6,361.3 548.3,361.9 549.0,363.3 C549.7,364.7 550.3,366.5 551.0,368.7 C551.7,370.9 552.3,373.8 553.0,376.7 C553.7,379.6 554.3,383.7 555.0,386.0 C555.7,388.3 556.3,389.2 557.0,390.5 C557.7,391.8 558.3,392.0 559.0,393.5 C559.7,395.0 560.4,397.3 561.0,399.4 C561.6,401.5 562.0,403.8 562.5,406.0 C563.0,408.2 563.5,412.3 564.0,412.8 C564.5,413.3 565.0,411.7 565.5,409.0 C566.0,406.3 566.4,399.4 567.0,396.4 C567.6,393.4 568.4,391.9 569.0,391.0 C569.6,390.1 570.0,390.5 570.5,391.0 C571.0,391.5 571.4,392.8 572.0,394.0 C572.6,395.2 573.3,397.8 574.0,398.0 C574.7,398.2 575.3,396.3 576.0,395.1 C576.7,393.9 577.3,392.1 578.0,390.8 C578.7,389.5 579.3,388.2 580.0,387.1 C580.7,386.0 581.3,384.8 582.0,384.0 C582.7,383.2 583.3,382.8 584.0,382.4 C584.7,382.0 585.3,382.0 586.0,381.8 C586.7,381.6 587.4,382.0 588.0,381.0 C588.6,380.0 589.1,377.7 589.5,376.0 C589.9,374.3 590.1,372.1 590.5,370.7 C590.9,369.3 591.5,369.1 592.0,367.5 C592.5,365.9 593.0,363.5 593.5,361.2 C594.0,358.9 594.4,355.8 595.0,353.8 C595.6,351.8 596.3,350.1 597.0,349.0 C597.7,347.9 598.3,347.2 599.0,346.9 C599.7,346.6 600.3,346.9 601.0,347.4 C601.7,347.9 602.3,349.0 603.0,350.1 C603.7,351.2 604.3,352.7 605.0,353.8 C605.7,354.9 606.3,356.3 607.0,357.0 C607.7,357.7 608.3,358.2 609.0,358.0 C609.7,357.8 610.5,356.7 611.0,355.9 C611.5,355.1 611.7,354.3 612.0,353.1 C612.3,351.9 612.6,350.1 613.0,348.9 C613.4,347.6 613.8,346.4 614.5,345.6 C615.2,344.8 616.1,344.5 617.0,344.1 C617.9,343.7 619.0,343.5 620.0,343.1 C621.0,342.7 622.0,342.4 623.0,341.9 C624.0,341.4 625.0,340.7 626.0,340.0 C627.0,339.3 628.0,338.3 629.0,337.5 C630.0,336.7 631.0,335.9 632.0,335.3 C633.0,334.7 634.0,334.1 635.0,333.8 C636.0,333.4 637.1,333.2 638.0,333.4 C638.9,333.6 639.8,334.3 640.5,335.0 C641.2,335.7 641.5,336.5 642.0,337.5 C642.5,338.5 643.0,339.8 643.5,341.2 C644.0,342.7 644.4,344.8 645.0,346.2 C645.6,347.7 646.2,349.0 647.0,350.0 C647.8,351.0 649.0,351.9 650.0,352.4 C651.0,352.9 652.0,352.7 653.0,353.0 C654.0,353.3 655.2,353.8 656.0,354.3 C656.8,354.9 657.3,355.4 658.0,356.3 C658.7,357.2 659.3,358.6 660.0,359.9 C660.7,361.2 661.3,362.8 662.0,364.3 C662.7,365.9 663.3,367.6 664.0,369.2 C664.7,370.8 665.3,372.4 666.0,374.0 C666.7,375.6 667.3,377.3 668.0,378.8 C668.7,380.3 669.3,381.5 670.0,382.8 C670.7,384.1 671.3,385.6 672.0,386.9 C672.7,388.2 673.3,389.5 674.0,390.5 C674.7,391.5 675.2,392.2 676.0,392.9 C676.8,393.6 678.0,394.3 679.0,394.9 C680.0,395.5 680.8,396.0 682.0,396.4 C683.2,396.8 684.7,397.1 686.0,397.3 C687.3,397.5 688.5,397.7 690.0,397.7 C691.5,397.7 693.3,397.6 695.0,397.3 C696.7,397.0 698.7,396.5 700.0,396.1 C701.3,395.8 702.0,395.5 703.0,395.2 C704.0,394.9 705.2,394.6 706.0,394.3 C706.8,394.0 707.7,393.7 708.0,393.6 L708,498.5 L89.5,498.5 Z" fill="url(#gl)"/>
<line x1="709.8" y1="395" x2="709.8" y2="499" stroke="#07121e" stroke-width="2.4" stroke-opacity=".8"/>
<line x1="88.5" y1="305" x2="88.5" y2="499" stroke="#6a7284" stroke-width="1.2"/>
<line x1="88" y1="498.9" x2="708" y2="498.9" stroke="#56687e" stroke-width="1.5"/>
<path d="M89.6,424 C89.8,423.3 90.2,421.3 90.5,420.0 C90.8,418.7 91.1,417.4 91.6,416.0 C92.1,414.6 92.6,413.0 93.3,411.5 C94.0,410.0 94.8,408.5 95.6,407.0 C96.4,405.5 97.5,403.7 98.4,402.4 C99.4,401.1 100.3,399.9 101.3,399.0 C102.2,398.1 103.2,397.3 104.1,396.8 C105.0,396.3 106.0,396.1 106.9,396.1 C107.8,396.2 108.7,396.5 109.7,397.1 C110.7,397.7 112.0,398.7 113.1,399.6 C114.2,400.5 115.4,401.4 116.5,402.4 C117.6,403.3 118.8,404.4 119.9,405.3 C121.0,406.2 122.2,406.9 123.3,407.5 C124.3,408.1 125.0,408.2 126.2,408.9 C127.4,409.6 129.1,411.1 130.5,411.7 C131.9,412.3 133.3,412.6 134.7,412.4 C136.1,412.2 137.7,411.4 139.0,410.3 C140.3,409.2 141.4,407.5 142.5,406.0 C143.6,404.5 144.4,402.9 145.3,401.1 C146.2,399.3 147.2,397.3 148.1,395.4 C149.0,393.5 150.1,391.7 151.0,389.8 C151.9,387.9 152.9,385.9 153.8,384.1 C154.7,382.3 155.7,380.9 156.6,379.2 C157.5,377.5 158.3,375.7 159.4,374.2 C160.5,372.7 161.9,371.2 163.0,370.0 C164.1,368.8 164.8,367.7 166.0,366.9 C167.2,366.1 168.7,365.4 170.0,365.0 C171.3,364.6 172.8,364.4 174.0,364.2 C175.2,364.1 176.0,364.1 177.0,364.1 C178.0,364.1 178.8,364.2 180.0,364.4 C181.2,364.6 182.7,364.8 184.0,365.3 C185.3,365.8 186.7,366.5 188.0,367.2 C189.3,367.9 190.7,368.6 192.0,369.4 C193.3,370.2 194.7,371.1 196.0,371.9 C197.3,372.7 198.7,373.6 200.0,374.4 C201.3,375.2 202.7,376.0 204.0,376.6 C205.3,377.2 206.8,377.9 208.0,378.2 C209.2,378.5 210.0,378.5 211.0,378.4 C212.0,378.2 213.0,377.7 214.0,377.3 C215.0,376.9 216.0,376.5 217.0,376.1 C218.0,375.7 219.0,375.3 220.0,375.1 C221.0,374.9 222.0,374.8 223.0,374.7 C224.0,374.6 225.0,374.6 226.0,374.7 C227.0,374.8 228.0,374.8 229.0,375.0 C230.0,375.2 231.0,375.4 232.0,375.8 C233.0,376.1 234.0,376.5 235.0,377.0 C236.0,377.5 237.0,378.0 238.0,378.6 C239.0,379.2 240.0,379.7 241.0,380.4 C242.0,381.1 243.0,381.8 244.0,382.6 C245.0,383.4 246.0,384.3 247.0,385.1 C248.0,385.9 249.2,386.8 250.0,387.6 C250.8,388.4 251.3,389.4 252.0,390.0 C252.7,390.6 253.3,390.8 254.0,391.2 C254.7,391.6 255.2,391.9 256.0,392.1 C256.8,392.3 257.7,392.5 258.5,392.4 C259.3,392.2 260.2,391.8 261.0,391.2 C261.8,390.6 262.3,390.0 263.0,388.8 C263.7,387.6 264.3,385.8 265.0,384.1 C265.7,382.4 266.3,380.6 267.0,378.7 C267.7,376.8 268.3,374.9 269.0,372.8 C269.7,370.7 270.4,368.4 271.0,366.3 C271.6,364.2 272.1,362.4 272.5,360.5 C272.9,358.6 273.1,357.2 273.5,355.0 C273.9,352.8 274.4,349.5 275.0,347.5 C275.6,345.5 276.3,344.2 277.0,343.0 C277.7,341.8 278.3,341.2 279.0,340.5 C279.7,339.8 280.2,339.2 281.0,338.8 C281.8,338.3 283.2,337.9 284.0,337.8 C284.8,337.6 285.3,337.5 286.0,337.6 C286.7,337.7 287.3,337.9 288.0,338.2 C288.7,338.6 289.3,339.0 290.0,339.5 C290.7,340.0 291.3,340.8 292.0,341.5 C292.7,342.2 293.3,343.1 294.0,344.0 C294.7,344.9 295.3,346.0 296.0,347.0 C296.7,348.0 297.3,349.1 298.0,350.0 C298.7,350.9 299.3,351.7 300.0,352.5 C300.7,353.3 301.3,354.1 302.0,354.8 C302.7,355.6 303.3,356.4 304.0,357.0 C304.7,357.6 305.3,358.2 306.0,358.6 C306.7,359.0 307.2,359.4 308.0,359.6 C308.8,359.9 309.7,360.1 310.5,360.1 C311.3,360.1 312.2,360.2 313.0,359.6 C313.8,359.0 314.3,357.8 315.0,356.7 C315.7,355.6 316.3,354.1 317.0,352.8 C317.7,351.5 318.3,350.1 319.0,348.9 C319.7,347.7 320.3,346.5 321.0,345.5 C321.7,344.5 322.3,343.6 323.0,342.7 C323.7,341.8 324.3,341.0 325.0,340.4 C325.7,339.8 326.3,339.4 327.0,339.2 C327.7,339.0 328.3,338.9 329.0,339.0 C329.7,339.1 330.3,339.5 331.0,339.9 C331.7,340.3 332.3,341.1 333.0,341.6 C333.7,342.2 334.3,342.7 335.0,343.2 C335.7,343.7 336.3,344.3 337.0,344.7 C337.7,345.1 338.3,345.3 339.0,345.5 C339.7,345.7 340.3,345.9 341.0,345.8 C341.7,345.8 342.3,345.5 343.0,345.2 C343.7,344.9 344.2,344.3 345.0,343.8 C345.8,343.3 346.8,342.9 348.0,342.3 C349.2,341.7 350.8,340.8 352.0,340.4 C353.2,340.0 354.2,339.9 355.0,340.0 C355.8,340.1 356.3,340.2 357.0,340.8 C357.7,341.4 358.4,342.7 359.0,343.8 C359.6,344.9 360.1,346.3 360.5,347.5 C360.9,348.7 361.2,350.2 361.5,351.1 C361.8,352.0 361.9,352.7 362.2,352.6 C362.5,352.5 363.0,351.5 363.5,350.5 C364.0,349.5 364.4,348.2 365.0,346.8 C365.6,345.4 366.2,343.6 367.0,342.3 C367.8,341.1 369.1,339.9 370.0,339.3 C370.9,338.7 371.7,338.4 372.5,338.5 C373.3,338.6 374.1,338.9 375.0,339.6 C375.9,340.4 377.0,341.9 378.0,343.0 C379.0,344.1 380.2,345.3 381.0,346.0 C381.8,346.7 382.2,347.3 383.0,347.3 C383.8,347.3 384.8,346.7 386.0,346.0 C387.2,345.3 388.7,344.1 390.0,343.0 C391.3,341.9 393.0,340.1 394.0,339.2 C395.0,338.3 395.3,338.1 396.0,337.8 C396.7,337.5 397.3,337.2 398.0,337.5 C398.7,337.8 399.3,338.5 400.0,339.4 C400.7,340.3 401.3,341.9 402.0,343.1 C402.7,344.4 403.5,346.1 404.0,346.9 C404.5,347.7 404.7,348.0 405.2,348.1 C405.7,348.2 406.2,348.0 407.0,347.5 C407.8,347.0 409.0,345.9 410.0,345.0 C411.0,344.1 412.0,343.1 413.0,342.2 C414.0,341.3 415.0,340.4 416.0,339.7 C417.0,339.0 418.0,338.0 419.0,337.8 C420.0,337.6 421.0,338.2 422.0,338.8 C423.0,339.3 424.0,340.3 425.0,341.2 C426.0,342.2 427.0,343.4 428.0,344.4 C429.0,345.4 430.0,346.4 431.0,347.5 C432.0,348.6 433.0,350.1 434.0,351.2 C435.0,352.4 436.2,353.7 437.0,354.4 C437.8,355.1 438.2,355.3 439.0,355.3 C439.8,355.3 441.2,354.9 442.0,354.4 C442.8,353.9 443.2,353.3 444.0,352.4 C444.8,351.5 446.0,350.1 447.0,349.1 C448.0,348.1 449.0,347.2 450.0,346.2 C451.0,345.2 452.0,344.1 453.0,343.2 C454.0,342.3 455.0,341.3 456.0,340.6 C457.0,339.9 458.0,339.5 459.0,339.2 C460.0,338.9 461.0,338.8 462.0,338.8 C463.0,338.9 464.2,339.1 465.0,339.5 C465.8,339.9 466.3,340.2 467.0,341.0 C467.7,341.8 468.3,342.9 469.0,344.3 C469.7,345.7 470.3,347.6 471.0,349.1 C471.7,350.6 472.3,352.3 473.0,353.5 C473.7,354.7 474.2,355.7 475.0,356.4 C475.8,357.1 476.7,357.8 477.5,357.9 C478.3,358.0 479.2,357.4 480.0,356.8 C480.8,356.2 481.3,354.9 482.0,354.2 C482.7,353.5 483.3,353.1 484.0,352.8 C484.7,352.5 485.3,352.4 486.0,352.4 C486.7,352.4 487.4,352.3 488.0,353.0 C488.6,353.7 489.1,354.7 489.5,356.5 C489.9,358.3 490.2,361.6 490.5,364.0 C490.8,366.4 491.2,369.2 491.5,371.1 C491.8,373.0 492.2,374.5 492.5,375.6 C492.8,376.7 493.2,377.7 493.5,377.8 C493.8,377.9 494.2,377.2 494.5,376.2 C494.8,375.2 495.1,373.4 495.5,371.8 C495.9,370.2 496.4,368.3 497.0,366.7 C497.6,365.1 498.3,363.4 499.0,362.2 C499.7,361.0 500.3,360.3 501.0,359.7 C501.7,359.1 502.3,358.6 503.0,358.4 C503.7,358.2 504.3,358.3 505.0,358.4 C505.7,358.4 506.4,359.0 507.0,358.7 C507.6,358.4 508.0,357.5 508.5,356.5 C509.0,355.5 509.5,353.9 510.0,352.7 C510.5,351.5 511.0,350.3 511.5,349.5 C512.0,348.7 512.5,348.1 513.0,348.0 C513.5,347.9 514.0,348.1 514.5,348.6 C515.0,349.1 515.5,350.2 516.0,351.1 C516.5,352.0 517.0,353.2 517.5,354.0 C518.0,354.8 518.4,355.1 519.0,355.6 C519.6,356.1 520.3,356.2 521.0,356.8 C521.7,357.4 522.3,358.3 523.0,359.1 C523.7,359.9 524.3,361.0 525.0,361.6 C525.7,362.2 526.3,363.2 527.0,362.9 C527.7,362.6 528.3,360.8 529.0,359.7 C529.7,358.6 530.3,357.4 531.0,356.5 C531.7,355.6 532.3,354.3 533.0,354.3 C533.7,354.3 534.4,356.1 535.0,356.6 C535.6,357.2 536.0,357.6 536.5,357.6 C537.0,357.6 537.4,357.0 538.0,356.4 C538.6,355.8 539.3,354.6 540.0,353.9 C540.7,353.2 541.3,352.5 542.0,352.4 C542.7,352.3 543.4,352.6 544.0,353.4 C544.6,354.2 545.0,356.2 545.5,357.4 C546.0,358.5 546.4,359.3 547.0,360.3 C547.6,361.3 548.3,361.9 549.0,363.3 C549.7,364.7 550.3,366.5 551.0,368.7 C551.7,370.9 552.3,373.8 553.0,376.7 C553.7,379.6 554.3,383.7 555.0,386.0 C555.7,388.3 556.3,389.2 557.0,390.5 C557.7,391.8 558.3,392.0 559.0,393.5 C559.7,395.0 560.4,397.3 561.0,399.4 C561.6,401.5 562.0,403.8 562.5,406.0 C563.0,408.2 563.5,412.3 564.0,412.8 C564.5,413.3 565.0,411.7 565.5,409.0 C566.0,406.3 566.4,399.4 567.0,396.4 C567.6,393.4 568.4,391.9 569.0,391.0 C569.6,390.1 570.0,390.5 570.5,391.0 C571.0,391.5 571.4,392.8 572.0,394.0 C572.6,395.2 573.3,397.8 574.0,398.0 C574.7,398.2 575.3,396.3 576.0,395.1 C576.7,393.9 577.3,392.1 578.0,390.8 C578.7,389.5 579.3,388.2 580.0,387.1 C580.7,386.0 581.3,384.8 582.0,384.0 C582.7,383.2 583.3,382.8 584.0,382.4 C584.7,382.0 585.3,382.0 586.0,381.8 C586.7,381.6 587.4,382.0 588.0,381.0 C588.6,380.0 589.1,377.7 589.5,376.0 C589.9,374.3 590.1,372.1 590.5,370.7 C590.9,369.3 591.5,369.1 592.0,367.5 C592.5,365.9 593.0,363.5 593.5,361.2 C594.0,358.9 594.4,355.8 595.0,353.8 C595.6,351.8 596.3,350.1 597.0,349.0 C597.7,347.9 598.3,347.2 599.0,346.9 C599.7,346.6 600.3,346.9 601.0,347.4 C601.7,347.9 602.3,349.0 603.0,350.1 C603.7,351.2 604.3,352.7 605.0,353.8 C605.7,354.9 606.3,356.3 607.0,357.0 C607.7,357.7 608.3,358.2 609.0,358.0 C609.7,357.8 610.5,356.7 611.0,355.9 C611.5,355.1 611.7,354.3 612.0,353.1 C612.3,351.9 612.6,350.1 613.0,348.9 C613.4,347.6 613.8,346.4 614.5,345.6 C615.2,344.8 616.1,344.5 617.0,344.1 C617.9,343.7 619.0,343.5 620.0,343.1 C621.0,342.7 622.0,342.4 623.0,341.9 C624.0,341.4 625.0,340.7 626.0,340.0 C627.0,339.3 628.0,338.3 629.0,337.5 C630.0,336.7 631.0,335.9 632.0,335.3 C633.0,334.7 634.0,334.1 635.0,333.8 C636.0,333.4 637.1,333.2 638.0,333.4 C638.9,333.6 639.8,334.3 640.5,335.0 C641.2,335.7 641.5,336.5 642.0,337.5 C642.5,338.5 643.0,339.8 643.5,341.2 C644.0,342.7 644.4,344.8 645.0,346.2 C645.6,347.7 646.2,349.0 647.0,350.0 C647.8,351.0 649.0,351.9 650.0,352.4 C651.0,352.9 652.0,352.7 653.0,353.0 C654.0,353.3 655.2,353.8 656.0,354.3 C656.8,354.9 657.3,355.4 658.0,356.3 C658.7,357.2 659.3,358.6 660.0,359.9 C660.7,361.2 661.3,362.8 662.0,364.3 C662.7,365.9 663.3,367.6 664.0,369.2 C664.7,370.8 665.3,372.4 666.0,374.0 C666.7,375.6 667.3,377.3 668.0,378.8 C668.7,380.3 669.3,381.5 670.0,382.8 C670.7,384.1 671.3,385.6 672.0,386.9 C672.7,388.2 673.3,389.5 674.0,390.5 C674.7,391.5 675.2,392.2 676.0,392.9 C676.8,393.6 678.0,394.3 679.0,394.9 C680.0,395.5 680.8,396.0 682.0,396.4 C683.2,396.8 684.7,397.1 686.0,397.3 C687.3,397.5 688.5,397.7 690.0,397.7 C691.5,397.7 693.3,397.6 695.0,397.3 C696.7,397.0 698.7,396.5 700.0,396.1 C701.3,395.8 702.0,395.5 703.0,395.2 C704.0,394.9 705.2,394.6 706.0,394.3 C706.8,394.0 707.7,393.7 708.0,393.6" fill="none" stroke="#44cce8" stroke-width="1.7"/>
<g font-family="Liberation Sans, sans-serif">
<g font-size="43" fill="#f4f2f6" stroke="#f4f2f6" stroke-width="1.1">
<text x="211" y="125" textLength="134.07" lengthAdjust="spacingAndGlyphs">Lossless</text>
<text x="355" y="125" textLength="102.09" lengthAdjust="spacingAndGlyphs">Sound</text>
<text x="467" y="125" textLength="118.4" lengthAdjust="spacingAndGlyphs">Quality</text>
</g>
<g font-size="27.5" fill="#dcd8e2" stroke="#dcd8e2" stroke-width="0.5">
<text x="170" y="170.7" textLength="72" lengthAdjust="spacingAndGlyphs">Steady</text>
<text x="250" y="170.7" textLength="61.02" lengthAdjust="spacingAndGlyphs">signal</text>
<text x="318" y="170.7" textLength="137.01" lengthAdjust="spacingAndGlyphs">transmission</text>
<text x="462" y="170.7" textLength="47.02" lengthAdjust="spacingAndGlyphs">with</text>
<text x="514.3" y="170.7" textLength="44.47" lengthAdjust="spacingAndGlyphs">high</text>
<text x="566.4" y="170.7" textLength="63.42" lengthAdjust="spacingAndGlyphs">speed</text>
</g>
<g font-size="19" fill="#3cb2e6" stroke="#3cb2e6" stroke-width="0.4"><text x="46" y="288" letter-spacing="0.5">(db SPL)</text></g>
<g font-size="22" fill="#bcbcc6">
<text x="45.5" y="359.6">90</text><text x="45.8" y="398.7">80</text><text x="45.2" y="438.7">70</text><text x="45.8" y="474.8">60</text><text x="45.3" y="516.7">50</text>
<text x="119.5" y="536">20</text><text x="168.5" y="536">50</text><text x="209" y="536">100</text><text x="273" y="536">200</text>
<text x="344.3" y="536">500</text><text x="410.5" y="536">1k</text><text x="480.3" y="536">2k</text><text x="545.9" y="536">5k</text>
<text x="589.5" y="536">10k</text><text x="653.1" y="536">20k</text>
</g>
<text x="709" y="534" font-size="20" fill="#3cb2e6" stroke="#3cb2e6" stroke-width="0.4" letter-spacing="1.4">(HZ)</text>
</g>
</svg>
</body></html>
